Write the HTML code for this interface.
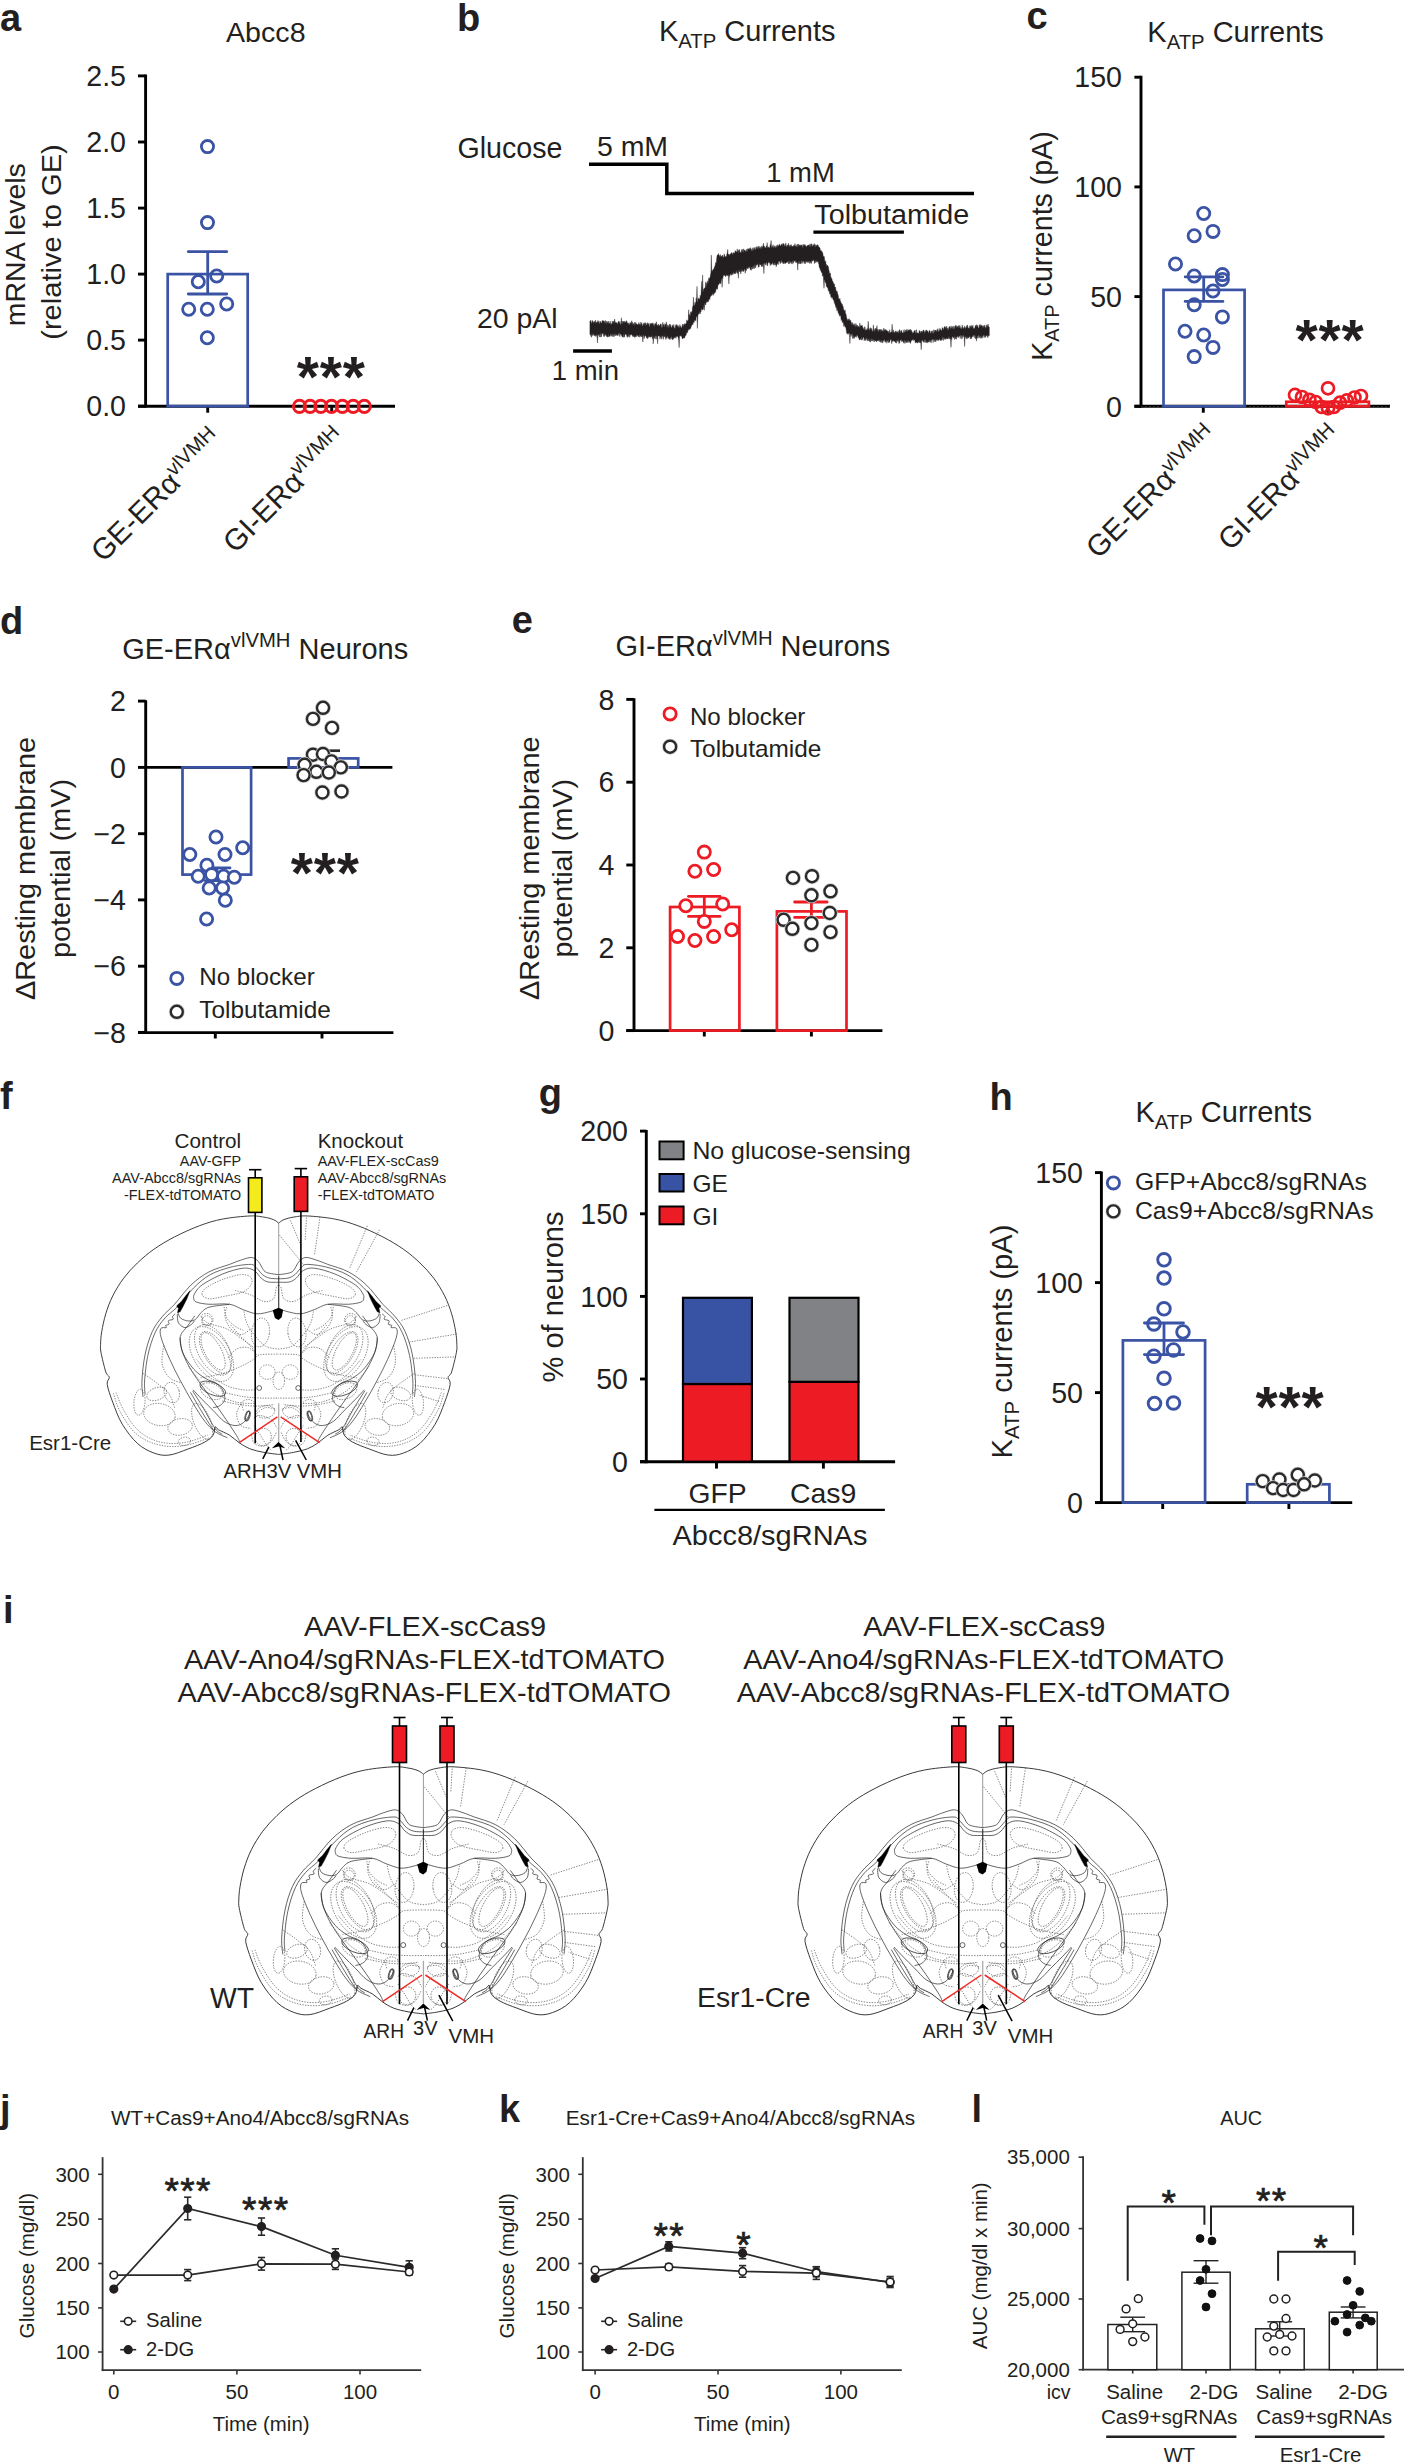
<!DOCTYPE html>
<html><head><meta charset="utf-8"><title>Figure</title>
<style>html,body{margin:0;padding:0;background:#fff}svg{display:block}text{font-family:"Liberation Sans",Arial,Helvetica,sans-serif;fill:#231f20}</style></head>
<body><svg width="1404" height="2463" viewBox="0 0 1404 2463">
<rect width="1404" height="2463" fill="#fff"/>
<defs><g id="brain"><g id="bh"><g fill="none" stroke="#222" stroke-width="0.7"><path d="M423.4,1774.2C422.5,1773.6 420.6,1771.6 418.0,1770.6C415.4,1769.6 412.0,1768.6 408.0,1768.0C404.0,1767.4 400.9,1766.5 393.8,1766.8C386.7,1767.1 374.1,1768.3 365.3,1770.0C356.5,1771.7 349.4,1773.9 341.1,1777.0C332.8,1780.1 323.3,1784.5 315.5,1788.5C307.7,1792.5 300.5,1796.8 294.1,1801.3C287.7,1805.8 282.2,1810.5 277.0,1815.5C271.8,1820.5 267.1,1825.5 262.8,1831.2C258.5,1836.9 254.5,1843.5 251.4,1849.7C248.3,1855.9 246.1,1862.0 244.2,1868.2C242.3,1874.4 240.9,1881.5 240.0,1886.8C239.1,1892.1 238.9,1896.4 238.8,1900.0C238.7,1903.6 238.4,1903.8 239.3,1908.5C240.2,1913.2 242.8,1924.1 244.2,1928.4C245.6,1932.7 247.6,1931.9 247.8,1934.1C248.1,1936.2 245.1,1937.0 245.7,1941.3C246.3,1945.6 248.8,1952.9 251.4,1959.8C254.0,1966.7 257.0,1975.5 261.3,1982.6C265.6,1989.7 271.5,1997.5 277.0,2002.5C282.5,2007.5 288.6,2010.5 294.1,2012.5C299.6,2014.5 303.9,2015.3 309.8,2014.6C315.7,2013.9 323.5,2010.5 329.7,2008.2C335.9,2006.0 342.5,2003.5 346.8,2001.1C351.1,1998.7 353.6,1996.6 355.4,1994.0C357.2,1991.4 356.6,1986.4 357.5,1985.4C358.4,1984.5 358.5,1986.9 361.0,1988.3C363.5,1989.7 368.9,1991.8 372.5,1994.0C376.1,1996.2 378.8,1999.4 382.4,2001.8C385.9,2004.2 389.5,2006.5 393.8,2008.2C398.1,2009.9 403.2,2010.8 408.1,2011.8C413.0,2012.8 420.8,2013.6 423.4,2013.9" stroke-width="0.9" stroke="#222"/><path d="M423.4,1827.6C421.8,1827.4 416.3,1826.9 413.8,1826.2C411.2,1825.5 410.0,1825.4 408.1,1823.4C406.2,1821.3 404.5,1816.4 402.4,1814.1C400.2,1811.8 398.3,1810.1 395.2,1809.8C392.2,1809.6 387.6,1811.5 383.8,1812.7C380.0,1813.9 377.9,1814.9 372.5,1817.0C367.0,1819.0 357.7,1821.2 351.1,1824.8C344.4,1828.3 338.5,1832.7 332.6,1838.3C326.6,1843.9 320.4,1852.8 315.5,1858.3C310.5,1863.7 306.6,1866.4 302.8,1871.1C298.9,1875.8 295.5,1879.9 292.5,1886.4C289.5,1892.9 286.8,1901.4 285.0,1910.0C283.2,1918.6 282.0,1930.4 281.7,1937.8C281.3,1945.2 282.6,1951.7 282.8,1954.4"/><path d="M423.4,1831.9C421.8,1831.8 416.6,1831.9 413.8,1831.2C411.0,1830.5 409.0,1829.5 406.6,1827.6C404.3,1825.7 401.7,1821.6 399.5,1819.8C397.4,1818.0 398.1,1817.0 393.8,1817.0C389.5,1817.0 380.8,1818.0 373.9,1819.8C367.0,1821.6 358.9,1824.1 352.5,1827.6C346.1,1831.2 341.1,1835.6 335.4,1841.2C329.7,1846.7 323.3,1855.9 318.3,1861.1C313.3,1866.3 309.4,1868.1 305.6,1872.5C301.7,1876.9 298.2,1881.3 295.3,1887.8C292.3,1894.3 289.6,1903.1 287.8,1911.4C286.0,1919.7 284.9,1931.1 284.4,1937.8C284.0,1944.5 284.9,1949.4 285.0,1951.7"/><path d="M423.4,1835.5C421.6,1835.4 415.4,1835.9 412.3,1835.2C409.3,1834.5 407.6,1833.2 405.2,1831.2C402.8,1829.2 401.2,1825.1 398.1,1823.4C395.0,1821.7 392.2,1820.3 386.7,1820.9C381.2,1821.5 372.5,1824.0 365.3,1826.9C358.2,1829.8 348.8,1834.9 344.0,1838.3C339.1,1841.8 337.5,1845.2 336.1,1847.6C334.7,1850.0 335.1,1851.1 335.4,1852.6C335.8,1854.0 335.7,1855.2 338.3,1856.1C340.9,1857.1 345.4,1857.9 351.1,1858.3C356.8,1858.6 366.5,1857.3 372.5,1858.3C378.4,1859.2 381.9,1862.3 386.7,1864.0C391.4,1865.6 396.2,1867.9 400.9,1868.2C405.7,1868.5 411.4,1866.6 415.2,1865.7C418.9,1864.7 422.1,1863.1 423.4,1862.5"/><path d="M372.5,1858.3C368.9,1858.8 356.1,1859.9 351.1,1861.4C346.1,1862.9 344.9,1865.4 342.5,1867.5C340.2,1869.7 339.0,1872.9 336.8,1874.2C334.7,1875.6 332.2,1875.9 329.7,1875.6C327.2,1875.4 323.7,1874.2 321.9,1872.8C320.1,1871.4 319.5,1868.0 319.0,1867.1"/><path d="M318.3,1868.5C318.5,1870.0 318.2,1875.2 319.5,1877.5C320.8,1879.8 323.9,1882.2 326.2,1882.5C328.5,1882.7 331.6,1880.1 333.3,1878.9C334.9,1877.7 335.7,1875.9 336.1,1875.4"/><path d="M316.2,1868.2C315.7,1868.7 313.7,1870.1 313.3,1871.1C313.0,1872.0 314.8,1873.2 314.0,1873.9C313.3,1874.6 309.8,1874.5 309.1,1875.4C308.3,1876.2 310.2,1878.1 309.8,1878.9C309.3,1879.7 306.7,1879.7 306.2,1880.3C305.7,1880.9 307.8,1882.0 306.9,1882.5C306.1,1883.0 302.1,1881.7 301.2,1883.5C300.3,1885.3 300.1,1888.0 301.7,1893.3C303.2,1898.7 307.2,1908.1 310.6,1915.6C313.9,1923.0 317.7,1930.4 321.7,1937.8C325.6,1945.2 330.0,1953.1 334.2,1960.0C338.3,1966.9 342.7,1974.4 346.7,1979.4C350.6,1984.5 353.8,1987.7 357.8,1990.6C361.7,1993.4 368.2,1995.6 370.3,1996.7"/><polygon points="331.4,1844.3 328.3,1852.6 324.0,1861.1 321.2,1866.1 318.6,1867.1 319.5,1862.5 317.6,1860.0 322.6,1855.4 326.9,1849.7" fill="#000" stroke="#000" stroke-width="0.5"/><path d="M336.5,1870.3C335.2,1872.0 331.3,1877.5 329.0,1880.8C326.6,1884.0 323.5,1886.7 322.2,1889.7C321.0,1892.7 320.9,1894.7 321.5,1898.7C322.1,1902.7 323.7,1908.4 326.0,1913.7C328.2,1918.9 331.0,1923.9 335.0,1930.1C338.9,1936.4 344.9,1944.1 349.9,1951.1C354.9,1958.0 359.9,1964.8 364.9,1972.0C369.9,1979.2 376.8,1989.6 379.8,1994.4C382.8,1999.3 382.3,2000.0 382.8,2001.2"/><path d="M334.2,1948.1C336.1,1951.1 341.6,1959.5 345.4,1966.0C349.3,1972.5 354.2,1982.5 357.4,1987.0C360.6,1991.4 363.6,1991.9 364.9,1992.9"/><path d="M332.0,1949.6C333.7,1952.6 338.6,1961.2 342.4,1967.5C346.3,1973.9 352.7,1984.5 355.1,1987.7C357.6,1990.9 357.0,1987.1 357.4,1987.0"/><g><ellipse cx="355.1" cy="1945.8" rx="14.2" ry="6.3" transform="rotate(22 355.1 1945.8)"/><ellipse cx="391.5" cy="1974.2" rx="2.1" ry="5.4" transform="rotate(15 391.5 1974.2)"/><ellipse cx="403.2" cy="1945.1" rx="2.5" ry="2.5"/></g><path d="M423.5,1829.2C423.5,1834.6 423.5,1856.6 423.5,1862.1"/><path d="M321.2,1892.8C321.6,1895.4 321.6,1903.0 324.0,1908.5C326.4,1914.0 331.4,1921.1 335.4,1925.6C339.4,1930.1 344.4,1933.2 348.2,1935.6C352.0,1937.9 355.4,1937.9 358.2,1939.8C361.1,1941.7 363.8,1944.1 365.3,1947.0C366.9,1949.8 367.9,1954.2 367.5,1956.9C367.0,1959.7 364.5,1961.9 362.5,1963.3C360.5,1964.8 356.5,1965.1 355.4,1965.5"/><path d="M334.7,1947.0C336.2,1948.6 340.5,1953.4 344.0,1956.9C347.4,1960.5 351.6,1964.5 355.4,1968.3C359.2,1972.1 363.0,1977.1 366.8,1979.7C370.6,1982.3 374.8,1983.8 378.1,1984.0C381.5,1984.2 384.2,1983.0 386.7,1981.1C389.2,1979.2 392.2,1974.5 393.1,1972.6C394.1,1970.7 392.5,1970.2 392.4,1969.7"/><ellipse cx="390.7" cy="1974.0" rx="2.0" ry="5.4" transform="rotate(15 390.7 1974.0)"/></g><g fill="none" stroke="#444" stroke-width="0.65" stroke-dasharray="1.4 1.3"><path d="M344.0,1848.3C343.5,1846.4 344.7,1843.8 348.2,1841.2C351.8,1838.6 359.4,1834.9 365.3,1832.6C371.3,1830.4 379.1,1828.1 383.8,1827.6C388.6,1827.2 391.9,1828.2 393.8,1829.8C395.7,1831.3 396.4,1834.3 395.2,1836.9C394.1,1839.5 391.7,1843.2 386.7,1845.4C381.7,1847.7 371.3,1849.2 365.3,1850.4C359.4,1851.6 354.6,1852.9 351.1,1852.6C347.5,1852.2 344.4,1850.2 344.0,1848.3Z"/><path d="M378.1,1844.0C380.8,1844.7 388.8,1846.4 393.8,1848.3C398.8,1850.2 404.0,1854.7 408.1,1855.4C412.1,1856.1 415.9,1854.9 418.0,1852.6C420.2,1850.2 420.0,1843.5 420.9,1841.2C421.8,1838.8 423.0,1838.8 423.4,1838.3"/><path d="M366.8,1861.1C367.2,1863.0 367.7,1869.2 369.6,1872.5C371.5,1875.8 375.3,1878.9 378.1,1881.1C381.0,1883.2 385.3,1884.6 386.7,1885.3"/><path d="M344.0,1869.7C344.9,1868.0 349.2,1867.5 351.1,1868.2C353.0,1868.9 355.1,1872.0 355.4,1873.9C355.6,1875.8 354.2,1878.9 352.5,1879.6C350.8,1880.3 346.8,1879.9 345.4,1878.2C344.0,1876.5 343.0,1871.3 344.0,1869.7Z"/><ellipse cx="357.4" cy="1908.4" rx="11.2" ry="24.7" transform="rotate(-32 357.4 1908.4)"/><ellipse cx="353.7" cy="1909.9" rx="18.7" ry="31.4" transform="rotate(-32 353.7 1909.9)"/><ellipse cx="404.5" cy="1887.5" rx="9.3" ry="15.0" transform="rotate(8 404.5 1887.5)"/><ellipse cx="411.5" cy="1928.6" rx="8.2" ry="7.5"/><ellipse cx="409.7" cy="1969.8" rx="9.7" ry="6.3" transform="rotate(-10 409.7 1969.8)"/><ellipse cx="407.5" cy="1995.9" rx="8.2" ry="9.0" transform="rotate(20 407.5 1995.9)"/><path d="M342.4,1870.3C343.7,1871.5 345.4,1875.5 349.9,1877.8C354.4,1880.0 363.1,1880.8 369.4,1883.8C375.6,1886.7 382.6,1892.5 387.3,1895.7C392.0,1899.0 396.0,1902.0 397.8,1903.2"/><path d="M369.4,1861.3C369.1,1863.1 367.1,1868.1 367.9,1871.8C368.6,1875.5 371.1,1880.8 373.8,1883.8C376.6,1886.7 380.8,1889.7 384.3,1889.7C387.8,1889.7 393.0,1884.8 394.8,1883.8"/><path d="M387.3,1865.8C387.8,1867.8 388.6,1873.8 390.3,1877.8C392.0,1881.8 394.5,1885.8 397.8,1889.7C401.0,1893.7 405.5,1899.2 409.7,1901.7C414.0,1904.2 421.2,1904.2 423.5,1904.7"/><path d="M342.4,1934.6C346.2,1933.9 357.9,1932.1 364.9,1930.1C371.8,1928.1 378.8,1925.1 384.3,1922.6C389.8,1920.2 394.5,1917.2 397.8,1915.2C401.0,1913.2 399.5,1911.6 403.8,1910.7C408.0,1909.8 420.2,1910.1 423.5,1909.9"/><path d="M369.4,1950.3C372.3,1950.9 381.3,1953.2 387.3,1954.1C393.3,1954.9 399.2,1955.3 405.3,1955.5C411.3,1955.8 420.5,1955.5 423.5,1955.5"/><path d="M364.9,1958.5C367.9,1959.2 376.8,1961.4 382.8,1962.3C388.8,1963.2 394.8,1963.8 400.8,1963.8C406.7,1963.8 415.7,1962.5 418.7,1962.3"/><path d="M370.9,1913.7C372.3,1912.2 376.3,1906.4 379.8,1904.7C383.3,1903.0 388.3,1902.2 391.8,1903.2C395.3,1904.2 399.3,1909.4 400.8,1910.7"/><path d="M345.4,1871.8C344.4,1873.0 343.2,1876.3 343.9,1877.8C344.7,1879.3 348.2,1881.3 349.9,1880.8C351.7,1880.3 354.4,1876.5 354.4,1874.8C354.4,1873.0 351.4,1870.8 349.9,1870.3C348.4,1869.8 346.4,1870.5 345.4,1871.8Z"/><path d="M397.8,1976.5C398.8,1976.0 400.8,1973.2 403.8,1973.5C406.7,1973.7 412.7,1975.7 415.7,1978.0C418.7,1980.2 420.7,1985.5 421.7,1987.0"/><path d="M397.8,1984.0C398.8,1985.5 401.5,1989.5 403.8,1992.9C406.0,1996.4 409.2,2002.2 411.2,2004.9C413.2,2007.6 415.0,2008.6 415.7,2009.4"/><path d="M384.3,1961.5C383.6,1963.3 379.8,1968.3 379.8,1972.0C379.8,1975.7 381.8,1981.5 384.3,1984.0C386.8,1986.5 393.0,1986.5 394.8,1987.0"/><ellipse cx="279.1" cy="1959.8" rx="5.7" ry="13.5" transform="rotate(5 279.1 1959.8)"/><ellipse cx="297.0" cy="1951.2" rx="10.7" ry="6.4" transform="rotate(-20 297.0 1951.2)"/><ellipse cx="312.6" cy="1949.8" rx="7.8" ry="10.7" transform="rotate(-15 312.6 1949.8)"/><ellipse cx="299.8" cy="1972.6" rx="16.4" ry="11.4" transform="rotate(10 299.8 1972.6)"/><ellipse cx="321.2" cy="1985.4" rx="12.8" ry="8.5" transform="rotate(-10 321.2 1985.4)"/><ellipse cx="325.7" cy="2000.4" rx="6.4" ry="4.3" transform="rotate(-10 325.7 2000.4)"/><ellipse cx="344.0" cy="1979.7" rx="8.5" ry="19.9" transform="rotate(-22 344.0 1979.7)"/><ellipse cx="353.9" cy="1948.4" rx="12.1" ry="7.8" transform="rotate(25 353.9 1948.4)"/><ellipse cx="355.4" cy="1905.6" rx="15.7" ry="28.5" transform="rotate(-28 355.4 1905.6)"/><ellipse cx="355.4" cy="1907.1" rx="8.5" ry="21.4" transform="rotate(-28 355.4 1907.1)"/><path d="M252.1,1950.5C253.1,1953.5 255.0,1961.8 258.5,1968.3C261.9,1974.8 267.5,1984.2 272.7,1989.7C278.0,1995.1 283.7,1998.4 289.8,2001.1C296.0,2003.7 303.1,2005.2 309.8,2005.6C316.4,2006.1 322.8,2005.4 329.7,2003.9C336.6,2002.5 347.5,1998.0 351.1,1996.8"/><path d="M254.9,1949.8C256.1,1952.6 258.6,1960.7 262.1,1966.9C265.5,1973.1 270.7,1981.7 275.6,1986.8C280.5,1992.0 285.6,1995.3 291.3,1997.9C297.0,2000.6 303.4,2002.0 309.8,2002.5C316.2,2003.0 323.1,2002.2 329.7,2000.8C336.4,1999.4 346.3,1995.1 349.7,1994.0"/><path d="M282.7,1929.9C285.1,1931.5 292.4,1936.3 297.0,1939.8C301.5,1943.4 306.7,1947.0 309.8,1951.2C312.9,1955.5 314.5,1963.1 315.5,1965.5"/><path d="M304.1,1901.4C303.8,1904.5 301.7,1914.4 302.6,1919.9C303.6,1925.3 306.4,1930.8 309.8,1934.1C313.1,1937.5 320.5,1938.9 322.6,1939.8"/><path d="M373.9,1880.0C375.5,1881.9 380.5,1887.8 383.8,1891.4C387.2,1895.0 391.2,1898.5 393.8,1901.4C396.4,1904.2 398.6,1907.3 399.5,1908.5"/><path d="M329.7,1922.7C332.1,1925.6 339.2,1935.1 344.0,1939.8C348.7,1944.6 352.3,1947.9 358.2,1951.2C364.1,1954.5 372.7,1958.1 379.6,1959.8C386.5,1961.4 396.2,1961.0 399.5,1961.2"/><path d="M338.3,1915.6C340.6,1918.2 347.3,1926.8 352.5,1931.3C357.7,1935.8 363.9,1940.1 369.6,1942.7C375.3,1945.3 381.7,1946.2 386.7,1947.0C391.7,1947.7 397.4,1947.0 399.5,1947.0"/><path d="M386.7,1968.3C386.5,1966.9 384.3,1961.7 385.3,1959.8C386.2,1957.9 390.3,1956.9 392.4,1956.9C394.5,1956.9 397.1,1959.3 398.1,1959.8"/><path d="M400.9,1971.2C402.4,1970.2 406.2,1966.2 409.5,1965.5C412.8,1964.8 419.0,1966.7 420.9,1966.9"/><path d="M395.2,1994.0C395.7,1995.4 396.2,2000.6 398.1,2002.5C400.0,2004.4 403.8,2005.6 406.6,2005.4C409.5,2005.1 412.8,2003.5 415.2,2001.1C417.6,1998.7 419.9,1992.8 420.9,1991.1"/></g></g><use href="#bh" transform="translate(846.8,0) scale(-1,1)"/><polygon points="417.2,1864.6 423.5,1861.8 428.0,1864.3 426.5,1871.8 423.2,1874.5 419.5,1872.5" fill="#000"/><g fill="none" stroke="#444" stroke-width="0.65" stroke-dasharray="1.4 1.3"><path d="M424.2,1786.7 L449.4,1817.6"/><path d="M435.4,1771.3 L446.6,1797.9"/><path d="M466.2,1767.7 L460.6,1806.4"/><path d="M515.3,1776.9 L497.1,1820.4"/><path d="M527.9,1781.1 L504.1,1824.6"/><path d="M598.1,1859.6 L550.4,1875.1"/><path d="M607.9,1889.1 L558.8,1897.5"/><path d="M605.1,1912.9 L563.0,1914.3"/><path d="M598.1,1935.4 L563.0,1931.2"/><path d="M595.2,1946.6 L564.4,1942.4"/><path d="M589.6,1959.2 L568.6,1952.2"/><path d="M452.2,1768.5 L450.8,1792.3"/><ellipse cx="423.5" cy="1937.6" rx="6.0" ry="9.0"/></g><path d="M423.4,1960.8 V2003.4" stroke="#aaa" stroke-width="1.3"/><path d="M423.4,1774.2 V1829.2" stroke="#555" stroke-width="0.6"/></g></defs>
<text x="0.0" y="30.7" font-size="38" font-weight="bold" >a</text>
<text x="226.0" y="41.9" font-size="28" textLength="79.6" lengthAdjust="spacingAndGlyphs" >Abcc8</text>
<line x1="145.6" y1="74.4" x2="145.6" y2="407.6" stroke="#000" stroke-width="2.9" />
<line x1="138.0" y1="406.2" x2="395.0" y2="406.2" stroke="#000" stroke-width="2.9" />
<line x1="138.0" y1="406.2" x2="145.6" y2="406.2" stroke="#000" stroke-width="2.9" />
<text x="126.0" y="416.4" font-size="28.6" text-anchor="end" >0.0</text>
<line x1="138.0" y1="340.1" x2="145.6" y2="340.1" stroke="#000" stroke-width="2.9" />
<text x="126.0" y="350.3" font-size="28.6" text-anchor="end" >0.5</text>
<line x1="138.0" y1="274.1" x2="145.6" y2="274.1" stroke="#000" stroke-width="2.9" />
<text x="126.0" y="284.3" font-size="28.6" text-anchor="end" >1.0</text>
<line x1="138.0" y1="208.1" x2="145.6" y2="208.1" stroke="#000" stroke-width="2.9" />
<text x="126.0" y="218.2" font-size="28.6" text-anchor="end" >1.5</text>
<line x1="138.0" y1="142.0" x2="145.6" y2="142.0" stroke="#000" stroke-width="2.9" />
<text x="126.0" y="152.2" font-size="28.6" text-anchor="end" >2.0</text>
<line x1="138.0" y1="75.9" x2="145.6" y2="75.9" stroke="#000" stroke-width="2.9" />
<text x="126.0" y="86.1" font-size="28.6" text-anchor="end" >2.5</text>
<line x1="207.7" y1="406.2" x2="207.7" y2="412.7" stroke="#000" stroke-width="2.9" />
<line x1="331.7" y1="406.2" x2="331.7" y2="412.7" stroke="#000" stroke-width="2.9" />
<text x="25.0" y="244.7" font-size="28" text-anchor="middle" transform="rotate(-90 25.0 244.7)" textLength="163.0" lengthAdjust="spacingAndGlyphs" >mRNA levels</text>
<text x="60.7" y="242.0" font-size="28" text-anchor="middle" transform="rotate(-90 60.7 242.0)" textLength="195.5" lengthAdjust="spacingAndGlyphs" >(relative to GE)</text>
<rect x="167.7" y="274.1" width="80.0" height="132.1" stroke="#3a53a4" stroke-width="2.7" fill="none"/>
<line x1="207.7" y1="251.7" x2="207.7" y2="294.0" stroke="#3a53a4" stroke-width="2.8" />
<line x1="188.3" y1="251.7" x2="226.7" y2="251.7" stroke="#3a53a4" stroke-width="2.8" stroke-linecap="round"/>
<line x1="188.3" y1="294.0" x2="226.7" y2="294.0" stroke="#3a53a4" stroke-width="2.8" stroke-linecap="round"/>
<circle cx="207.5" cy="146.6" r="6.1" stroke="#3a53a4" stroke-width="2.8" fill="none"/>
<circle cx="207.5" cy="222.6" r="6.1" stroke="#3a53a4" stroke-width="2.8" fill="none"/>
<circle cx="216.7" cy="276.0" r="6.1" stroke="#3a53a4" stroke-width="2.8" fill="none"/>
<circle cx="198.3" cy="281.7" r="6.1" stroke="#3a53a4" stroke-width="2.8" fill="none"/>
<circle cx="226.7" cy="304.0" r="6.1" stroke="#3a53a4" stroke-width="2.8" fill="none"/>
<circle cx="188.7" cy="309.3" r="6.1" stroke="#3a53a4" stroke-width="2.8" fill="none"/>
<circle cx="207.3" cy="309.3" r="6.1" stroke="#3a53a4" stroke-width="2.8" fill="none"/>
<circle cx="207.3" cy="337.7" r="6.1" stroke="#3a53a4" stroke-width="2.8" fill="none"/>
<circle cx="299.5" cy="406.4" r="6.1" stroke="#ed1c24" stroke-width="2.9" fill="none"/>
<circle cx="310.1" cy="406.4" r="6.1" stroke="#ed1c24" stroke-width="2.9" fill="none"/>
<circle cx="320.8" cy="406.4" r="6.1" stroke="#ed1c24" stroke-width="2.9" fill="none"/>
<circle cx="331.5" cy="406.4" r="6.1" stroke="#ed1c24" stroke-width="2.9" fill="none"/>
<circle cx="342.4" cy="406.4" r="6.1" stroke="#ed1c24" stroke-width="2.9" fill="none"/>
<circle cx="353.2" cy="406.4" r="6.1" stroke="#ed1c24" stroke-width="2.9" fill="none"/>
<circle cx="364.3" cy="406.4" r="6.1" stroke="#ed1c24" stroke-width="2.9" fill="none"/>
<text x="331.2" y="396.8" font-size="57" text-anchor="middle" font-weight="bold" fill="#000" letter-spacing="0.8">***</text>
<text x="224.5" y="442.0" font-size="29.7" text-anchor="end" transform="rotate(-45 224.5 442.0)">GE-ERα<tspan font-size="20.5" dy="-11">vlVMH</tspan></text>
<text x="348.3" y="441.0" font-size="29.7" text-anchor="end" transform="rotate(-45 348.3 441.0)">GI-ERα<tspan font-size="20.5" dy="-11">vlVMH</tspan></text>
<text x="457.0" y="30.5" font-size="38" font-weight="bold" >b</text>
<text x="659" y="40.6" font-size="29">K<tspan font-size="20.3" dy="7">ATP</tspan><tspan dy="-7"> Currents</tspan></text>
<text x="457.5" y="158.3" font-size="28.6" textLength="105.0" lengthAdjust="spacingAndGlyphs" >Glucose</text>
<text x="596.9" y="155.6" font-size="28" textLength="71.2" lengthAdjust="spacingAndGlyphs" >5 mM</text>
<text x="766.2" y="181.7" font-size="28" textLength="68.6" lengthAdjust="spacingAndGlyphs" >1 mM</text>
<text x="814.3" y="223.9" font-size="28.4" textLength="154.9" lengthAdjust="spacingAndGlyphs" >Tolbutamide</text>
<path d="M589,164.2 H666.8 V193.4 H974" stroke="#000" stroke-width="3.5" fill="none" />
<line x1="813.4" y1="232.1" x2="903.9" y2="232.1" stroke="#000" stroke-width="3.3" />
<text x="476.9" y="327.7" font-size="28.4" textLength="80.7" lengthAdjust="spacingAndGlyphs" >20 pAl</text>
<line x1="573.1" y1="350.9" x2="611.9" y2="350.9" stroke="#000" stroke-width="3.5" />
<text x="551.7" y="379.6" font-size="28.4" textLength="67.3" lengthAdjust="spacingAndGlyphs" >1 min</text>
<path d="M589.9,321.2 590.3,322.2 590.7,320.0 591.1,321.7 591.5,322.6 591.9,324.1 592.3,320.5 592.7,320.7 593.1,322.3 593.5,322.8 593.9,321.9 594.3,321.0 594.7,323.1 595.1,321.8 595.5,320.1 595.9,323.7 596.3,322.5 596.7,322.0 597.1,322.8 597.5,321.7 597.9,320.5 598.3,321.1 598.7,322.0 599.1,323.8 599.5,323.9 599.9,321.1 600.3,321.2 600.7,322.5 601.1,322.8 601.5,323.5 601.9,321.8 602.3,320.4 602.6,320.4 603.0,321.7 603.4,320.8 603.8,320.7 604.2,322.3 604.6,321.3 605.0,324.3 605.4,320.3 605.8,323.2 606.2,323.5 606.6,321.2 607.0,323.7 607.4,322.5 607.8,321.4 608.2,324.3 608.6,321.2 609.0,323.0 609.4,323.1 609.8,324.2 610.2,321.1 610.6,324.5 611.0,323.5 611.4,324.2 611.8,324.6 612.2,320.9 612.6,322.6 613.0,323.9 613.4,321.4 613.8,321.0 614.2,322.9 614.6,319.0 615.0,321.2 615.4,322.5 615.8,322.7 616.2,322.9 616.6,322.7 617.0,322.4 617.4,323.5 617.8,324.6 618.2,321.7 618.6,321.2 619.0,321.7 619.4,324.5 619.8,321.3 620.2,324.8 620.6,324.3 621.0,322.2 621.4,317.8 621.8,323.5 622.2,324.2 622.6,321.0 623.0,322.7 623.4,321.5 623.8,321.3 624.2,321.3 624.5,321.3 624.9,322.9 625.3,322.2 625.7,321.5 626.1,322.4 626.5,320.6 626.9,321.2 627.3,323.2 627.7,323.0 628.1,323.4 628.5,324.8 628.9,322.7 629.3,324.4 629.7,324.9 630.1,322.3 630.5,323.2 630.9,323.7 631.3,322.9 631.7,320.8 632.1,321.8 632.5,322.8 632.9,324.7 633.3,323.2 633.7,324.6 634.1,325.4 634.5,322.2 634.9,325.0 635.3,324.5 635.7,322.2 636.1,324.1 636.5,323.8 636.9,323.9 637.3,324.9 637.7,324.9 638.1,323.9 638.5,325.1 638.9,322.5 639.3,324.3 639.7,324.8 640.1,324.1 640.5,325.8 640.9,322.0 641.3,323.9 641.7,322.9 642.1,326.1 642.5,325.9 642.9,324.2 643.3,323.4 643.7,325.7 644.1,322.7 644.5,323.4 644.9,324.7 645.3,322.4 645.7,326.3 646.0,323.1 646.4,325.8 646.8,324.7 647.2,324.3 647.6,322.6 648.0,323.9 648.4,323.5 648.8,324.1 649.2,326.4 649.6,326.8 650.0,322.9 650.4,323.7 650.8,324.4 651.2,324.1 651.6,323.2 652.0,323.6 652.4,324.6 652.8,322.8 653.2,324.8 653.6,326.3 654.0,323.3 654.4,326.9 654.8,324.8 655.2,323.9 655.6,323.5 656.0,323.4 656.4,321.7 656.8,325.0 657.2,325.1 657.6,326.1 658.0,324.9 658.4,324.1 658.8,326.1 659.2,325.3 659.6,326.7 660.0,324.5 660.4,324.2 660.8,323.9 661.2,323.9 661.6,327.2 662.0,327.4 662.4,326.6 662.8,322.2 663.2,325.0 663.6,324.4 664.0,325.4 664.4,327.5 664.8,323.7 665.2,323.8 665.6,324.7 666.0,324.8 666.4,321.8 666.8,327.6 667.2,324.7 667.5,325.4 667.9,327.8 668.3,327.3 668.7,325.2 669.1,324.7 669.5,324.1 669.9,327.7 670.3,324.4 670.7,325.0 671.1,327.2 671.5,327.6 671.9,327.2 672.3,324.8 672.7,325.8 673.1,327.6 673.5,326.2 673.9,324.4 674.3,328.4 674.7,328.0 675.1,328.4 675.5,325.3 675.9,325.4 676.3,324.4 676.7,325.7 677.1,324.7 677.5,327.1 677.9,326.1 678.3,325.6 678.7,327.8 679.1,327.2 679.5,327.5 679.9,324.6 680.3,327.7 680.7,325.9 681.1,327.6 681.5,327.7 681.9,327.7 682.3,325.1 682.7,324.0 683.1,326.9 683.5,324.9 683.9,324.2 684.3,325.4 684.7,323.5 685.1,323.8 685.5,324.5 685.9,323.5 686.3,323.4 686.7,319.8 687.1,320.7 687.5,321.0 687.9,321.0 688.3,319.6 688.7,309.8 689.1,317.8 689.4,314.3 689.8,315.1 690.2,316.1 690.6,311.8 691.0,312.9 691.4,312.4 691.8,311.4 692.2,311.3 692.6,306.5 693.0,307.3 693.4,297.1 693.8,305.7 694.2,305.5 694.6,304.9 695.0,302.1 695.4,304.0 695.8,302.9 696.2,298.1 696.6,301.0 697.0,286.4 697.4,302.4 697.8,301.5 698.2,297.8 698.6,300.0 699.0,298.5 699.4,299.3 699.8,298.9 700.2,295.2 700.6,297.6 701.0,294.6 701.4,288.7 701.8,281.2 702.2,293.4 702.6,275.0 703.0,288.1 703.4,292.2 703.8,289.1 704.2,288.5 704.6,288.1 705.0,288.3 705.4,286.3 705.8,281.8 706.2,287.2 706.6,282.9 707.0,285.3 707.4,280.8 707.8,282.9 708.2,282.4 708.6,278.8 709.0,277.8 709.4,278.7 709.8,277.9 710.2,276.7 710.6,274.1 710.9,273.1 711.3,255.1 711.7,271.1 712.1,271.6 712.5,270.5 712.9,270.1 713.3,268.8 713.7,269.4 714.1,268.6 714.5,266.4 714.9,266.9 715.3,264.6 715.7,262.6 716.1,263.5 716.5,260.5 716.9,256.8 717.3,254.9 717.7,254.9 718.1,254.8 718.5,253.4 718.9,254.9 719.3,257.5 719.7,255.2 720.1,257.0 720.5,254.6 720.9,257.2 721.3,256.1 721.7,257.4 722.1,255.7 722.5,255.0 722.9,256.7 723.3,257.6 723.7,257.2 724.1,253.8 724.5,254.7 724.9,256.8 725.3,256.7 725.7,256.6 726.1,256.7 726.5,256.2 726.9,254.0 727.3,253.0 727.7,249.4 728.1,254.5 728.5,254.0 728.9,255.0 729.3,256.2 729.7,254.1 730.1,254.6 730.5,253.8 730.9,253.5 731.3,252.8 731.7,252.6 732.1,254.7 732.5,253.7 732.8,254.2 733.2,252.3 733.6,253.5 734.0,253.3 734.4,253.2 734.8,252.5 735.2,250.5 735.6,251.8 736.0,251.2 736.4,251.9 736.8,252.3 737.2,248.9 737.6,252.2 738.0,251.3 738.4,250.1 738.8,253.5 739.2,249.3 739.6,250.0 740.0,252.8 740.4,252.1 740.8,253.1 741.2,252.4 741.6,249.6 742.0,250.4 742.4,249.3 742.8,251.4 743.2,252.6 743.6,248.8 744.0,249.9 744.4,251.0 744.8,249.9 745.2,251.7 745.6,250.7 746.0,251.7 746.4,249.2 746.8,251.9 747.2,251.3 747.6,248.8 748.0,248.7 748.4,249.7 748.8,248.6 749.2,249.8 749.6,248.3 750.0,249.8 750.4,247.6 750.8,250.0 751.2,248.7 751.6,250.9 752.0,250.4 752.4,250.5 752.8,247.8 753.2,249.3 753.6,250.7 754.0,247.3 754.3,249.4 754.7,248.5 755.1,247.5 755.5,250.3 755.9,249.8 756.3,246.6 756.7,249.2 757.1,246.7 757.5,248.2 757.9,249.0 758.3,246.1 758.7,249.6 759.1,246.3 759.5,247.7 759.9,248.4 760.3,248.7 760.7,246.8 761.1,249.2 761.5,246.9 761.9,245.7 762.3,247.5 762.7,246.9 763.1,245.7 763.5,243.2 763.9,246.7 764.3,246.0 764.7,247.6 765.1,248.1 765.5,247.6 765.9,247.6 766.3,245.8 766.7,248.0 767.1,242.7 767.5,246.8 767.9,248.3 768.3,247.2 768.7,246.8 769.1,248.3 769.5,247.8 769.9,246.6 770.3,244.5 770.7,244.8 771.1,240.5 771.5,246.8 771.9,248.0 772.3,246.3 772.7,245.9 773.1,244.7 773.5,247.6 773.9,247.6 774.3,247.3 774.7,245.7 775.1,247.3 775.5,247.9 775.8,246.4 776.2,245.5 776.6,247.0 777.0,247.4 777.4,244.7 777.8,247.4 778.2,245.3 778.6,246.2 779.0,245.5 779.4,243.9 779.8,245.0 780.2,245.5 780.6,245.9 781.0,245.4 781.4,244.1 781.8,245.5 782.2,244.0 782.6,247.1 783.0,243.1 783.4,244.5 783.8,243.7 784.2,244.1 784.6,246.3 785.0,245.9 785.4,245.8 785.8,242.8 786.2,246.9 786.6,246.6 787.0,244.8 787.4,245.2 787.8,246.5 788.2,244.2 788.6,243.3 789.0,246.6 789.4,246.9 789.8,245.2 790.2,247.3 790.6,244.7 791.0,247.2 791.4,244.7 791.8,246.9 792.2,245.9 792.6,246.7 793.0,246.8 793.4,246.2 793.8,245.1 794.2,245.5 794.6,245.9 795.0,243.6 795.4,246.4 795.8,245.9 796.2,245.8 796.6,247.8 797.0,244.2 797.4,244.3 797.7,247.0 798.1,246.6 798.5,244.0 798.9,245.6 799.3,246.2 799.7,244.8 800.1,245.1 800.5,246.3 800.9,244.8 801.3,245.1 801.7,244.9 802.1,248.0 802.5,246.2 802.9,244.4 803.3,244.7 803.7,246.7 804.1,244.2 804.5,245.7 804.9,245.3 805.3,244.7 805.7,245.7 806.1,247.6 806.5,246.3 806.9,245.9 807.3,245.4 807.7,245.4 808.1,245.1 808.5,245.2 808.9,245.0 809.3,244.8 809.7,247.4 810.1,243.7 810.5,245.4 810.9,247.2 811.3,244.0 811.7,243.7 812.1,244.8 812.5,246.2 812.9,246.6 813.3,245.0 813.7,244.7 814.1,243.6 814.5,244.3 814.9,246.4 815.3,244.6 815.7,247.4 816.1,246.1 816.5,245.2 816.9,246.6 817.3,244.4 817.7,245.6 818.1,245.0 818.5,247.0 818.9,247.0 819.2,246.9 819.6,247.8 820.0,247.9 820.4,251.3 820.8,250.3 821.2,250.4 821.6,251.8 822.0,251.5 822.4,252.3 822.8,253.2 823.2,255.9 823.6,257.1 824.0,256.2 824.4,257.4 824.8,261.2 825.2,261.5 825.6,260.8 826.0,264.1 826.4,264.3 826.8,266.7 827.2,265.1 827.6,265.6 828.0,266.1 828.4,267.1 828.8,270.0 829.2,271.1 829.6,273.9 830.0,273.3 830.4,272.9 830.8,277.5 831.2,277.4 831.6,278.4 832.0,279.0 832.4,281.8 832.8,281.0 833.2,282.7 833.6,283.0 834.0,284.7 834.4,283.9 834.8,287.0 835.2,287.9 835.6,287.1 836.0,290.9 836.4,292.1 836.8,290.7 837.2,291.6 837.6,293.7 838.0,294.4 838.4,296.8 838.8,298.9 839.2,299.4 839.6,298.8 840.0,298.4 840.4,302.7 840.8,301.3 841.1,303.8 841.5,303.1 841.9,304.9 842.3,304.2 842.7,306.0 843.1,306.5 843.5,309.1 843.9,310.1 844.3,310.9 844.7,310.7 845.1,309.8 845.5,314.0 845.9,313.7 846.3,315.8 846.7,317.9 847.1,319.0 847.5,319.8 847.9,320.8 848.3,319.0 848.7,320.7 849.1,318.6 849.5,320.7 849.9,320.5 850.3,321.2 850.7,319.9 851.1,322.3 851.5,322.7 851.9,324.8 852.3,324.6 852.7,322.4 853.1,324.5 853.5,324.4 853.9,325.3 854.3,325.9 854.7,323.6 855.1,326.9 855.5,325.9 855.9,323.5 856.3,324.8 856.7,325.4 857.1,327.8 857.5,325.1 857.9,327.1 858.3,326.2 858.7,326.6 859.1,327.2 859.5,327.6 859.9,322.9 860.3,327.3 860.7,325.6 861.1,325.4 861.5,325.7 861.9,325.8 862.3,325.3 862.6,327.4 863.0,327.3 863.4,328.6 863.8,329.3 864.2,329.7 864.6,326.9 865.0,326.8 865.4,330.4 865.8,329.9 866.2,329.9 866.6,330.3 867.0,328.5 867.4,330.5 867.8,327.6 868.2,321.3 868.6,327.7 869.0,330.1 869.4,330.4 869.8,328.4 870.2,329.7 870.6,327.6 871.0,328.1 871.4,328.4 871.8,329.8 872.2,331.6 872.6,331.5 873.0,328.9 873.4,324.9 873.8,330.7 874.2,332.1 874.6,329.3 875.0,329.6 875.4,328.1 875.8,330.7 876.2,328.6 876.6,328.4 877.0,325.6 877.4,331.9 877.8,329.3 878.2,331.4 878.6,331.2 879.0,329.3 879.4,330.5 879.8,329.4 880.2,330.8 880.6,329.3 881.0,332.1 881.4,330.3 881.8,329.3 882.2,332.1 882.6,330.4 883.0,330.8 883.4,331.7 883.8,328.0 884.2,331.3 884.5,330.1 884.9,329.4 885.3,330.8 885.7,329.3 886.1,330.4 886.5,330.7 886.9,330.0 887.3,332.1 887.7,330.9 888.1,332.5 888.5,331.3 888.9,333.2 889.3,333.0 889.7,329.6 890.1,332.8 890.5,333.0 890.9,332.0 891.3,331.7 891.7,332.1 892.1,324.2 892.5,330.8 892.9,333.3 893.3,329.8 893.7,333.2 894.1,331.8 894.5,332.0 894.9,333.5 895.3,331.8 895.7,330.7 896.1,332.9 896.5,331.4 896.9,332.2 897.3,332.0 897.7,332.8 898.1,330.7 898.5,333.3 898.9,332.7 899.3,330.4 899.7,329.6 900.1,330.6 900.5,331.7 900.9,332.9 901.3,330.9 901.7,330.2 902.1,332.4 902.5,332.8 902.9,333.2 903.3,332.4 903.7,331.2 904.1,329.5 904.5,332.8 904.9,331.7 905.3,331.9 905.7,330.1 906.0,330.3 906.4,331.4 906.8,329.2 907.2,329.6 907.6,331.9 908.0,330.5 908.4,329.7 908.8,331.2 909.2,329.8 909.6,330.0 910.0,330.1 910.4,329.2 910.8,331.6 911.2,329.8 911.6,331.4 912.0,331.6 912.4,332.2 912.8,333.4 913.2,332.7 913.6,333.2 914.0,331.0 914.4,332.1 914.8,330.1 915.2,333.5 915.6,332.6 916.0,330.1 916.4,329.7 916.8,333.4 917.2,332.8 917.6,332.9 918.0,332.9 918.4,333.4 918.8,333.5 919.2,330.3 919.6,331.5 920.0,331.0 920.4,333.4 920.8,332.2 921.2,330.9 921.6,332.9 922.0,330.9 922.4,332.1 922.8,332.4 923.2,330.0 923.6,330.2 924.0,330.4 924.4,331.2 924.8,333.7 925.2,331.8 925.6,331.5 926.0,329.9 926.4,331.1 926.8,329.9 927.2,331.1 927.5,331.8 927.9,331.1 928.3,332.5 928.7,333.4 929.1,331.0 929.5,330.2 929.9,331.3 930.3,332.9 930.7,333.8 931.1,331.3 931.5,330.8 931.9,332.9 932.3,333.2 932.7,330.7 933.1,333.4 933.5,333.2 933.9,329.5 934.3,333.1 934.7,330.8 935.1,330.1 935.5,331.1 935.9,330.1 936.3,331.2 936.7,331.9 937.1,329.4 937.5,331.4 937.9,328.6 938.3,330.7 938.7,331.9 939.1,331.3 939.5,330.0 939.9,328.2 940.3,329.7 940.7,329.2 941.1,330.7 941.5,330.5 941.9,330.3 942.3,327.6 942.7,328.1 943.1,328.0 943.5,329.7 943.9,329.7 944.3,326.6 944.7,326.7 945.1,326.5 945.5,329.0 945.9,327.1 946.3,329.6 946.7,326.1 947.1,328.6 947.5,328.1 947.9,330.2 948.3,330.1 948.7,327.8 949.1,327.3 949.4,326.6 949.8,326.6 950.2,328.1 950.6,329.8 951.0,325.9 951.4,328.3 951.8,328.3 952.2,326.3 952.6,327.5 953.0,328.9 953.4,328.9 953.8,325.9 954.2,326.5 954.6,329.5 955.0,327.0 955.4,325.4 955.8,325.4 956.2,325.5 956.6,326.7 957.0,328.0 957.4,326.8 957.8,326.0 958.2,328.2 958.6,325.4 959.0,328.2 959.4,327.1 959.8,325.3 960.2,326.7 960.6,328.2 961.0,328.4 961.4,328.9 961.8,327.6 962.2,324.9 962.6,327.9 963.0,327.0 963.4,328.7 963.8,328.3 964.2,328.2 964.6,325.9 965.0,328.2 965.4,327.4 965.8,328.8 966.2,327.7 966.6,326.1 967.0,325.3 967.4,325.0 967.8,326.4 968.2,328.4 968.6,328.0 969.0,328.1 969.4,328.5 969.8,325.7 970.2,326.3 970.6,327.7 970.9,325.6 971.3,325.4 971.7,327.7 972.1,326.7 972.5,327.1 972.9,325.1 973.3,328.5 973.7,328.6 974.1,328.3 974.5,328.7 974.9,327.4 975.3,325.5 975.7,325.6 976.1,327.3 976.5,324.7 976.9,324.9 977.3,325.6 977.7,325.7 978.1,327.6 978.5,328.0 978.9,328.1 979.3,324.5 979.7,327.3 980.1,325.1 980.5,327.2 980.9,324.5 981.3,326.0 981.7,325.5 982.1,325.5 982.5,327.7 982.9,326.1 983.3,328.2 983.7,325.4 984.1,326.4 984.5,326.5 984.9,324.9 985.3,328.5 985.7,327.6 986.1,328.1 986.5,325.5 986.9,324.8 987.3,327.6 987.7,325.3 988.1,324.1 988.5,326.6 988.9,326.7 989.3,327.2 L989.3,335.5 988.9,335.9 988.5,335.0 988.1,336.9 987.7,337.7 987.3,335.2 986.9,336.0 986.5,335.6 986.1,335.3 985.7,337.3 985.3,337.2 984.9,335.1 984.5,335.6 984.1,337.9 983.7,335.0 983.3,335.1 982.9,336.4 982.5,335.8 982.1,338.3 981.7,336.4 981.3,338.0 980.9,338.5 980.5,337.3 980.1,335.3 979.7,337.4 979.3,335.7 978.9,338.3 978.5,335.0 978.1,335.3 977.7,336.6 977.3,338.2 976.9,337.0 976.5,341.1 976.1,337.4 975.7,339.0 975.3,335.0 974.9,338.1 974.5,335.6 974.1,334.9 973.7,335.2 973.3,336.6 972.9,337.1 972.5,336.4 972.1,335.3 971.7,338.2 971.3,338.7 970.9,335.9 970.6,338.4 970.2,339.1 969.8,336.3 969.4,336.7 969.0,336.7 968.6,337.9 968.2,338.0 967.8,336.6 967.4,337.9 967.0,339.1 966.6,336.2 966.2,338.6 965.8,337.3 965.4,335.9 965.0,338.5 964.6,346.5 964.2,335.4 963.8,337.2 963.4,335.1 963.0,335.5 962.6,335.9 962.2,338.4 961.8,339.1 961.4,336.1 961.0,335.3 960.6,335.3 960.2,338.6 959.8,336.2 959.4,335.8 959.0,336.3 958.6,337.3 958.2,337.2 957.8,337.3 957.4,335.8 957.0,336.2 956.6,338.0 956.2,339.2 955.8,338.9 955.4,336.3 955.0,338.9 954.6,339.6 954.2,335.5 953.8,337.9 953.4,337.5 953.0,337.5 952.6,336.0 952.2,337.1 951.8,339.8 951.4,336.7 951.0,347.4 950.6,339.5 950.2,338.6 949.8,338.7 949.4,338.8 949.1,336.5 948.7,338.6 948.3,336.0 947.9,339.2 947.5,338.3 947.1,338.9 946.7,337.9 946.3,338.2 945.9,339.3 945.5,337.5 945.1,339.7 944.7,338.1 944.3,339.0 943.9,336.7 943.5,340.6 943.1,337.4 942.7,336.9 942.3,339.7 941.9,340.3 941.5,339.0 941.1,340.5 940.7,339.4 940.3,340.7 939.9,338.6 939.5,339.5 939.1,338.8 938.7,340.6 938.3,340.4 937.9,338.9 937.5,340.5 937.1,338.7 936.7,340.2 936.3,339.0 935.9,341.9 935.5,340.9 935.1,338.7 934.7,341.8 934.3,339.4 933.9,339.4 933.5,339.3 933.1,342.6 932.7,338.8 932.3,339.3 931.9,340.2 931.5,339.5 931.1,343.0 930.7,341.6 930.3,340.1 929.9,342.1 929.5,341.4 929.1,339.5 928.7,342.0 928.3,341.3 927.9,343.1 927.5,341.8 927.2,341.8 926.8,341.6 926.4,342.9 926.0,341.3 925.6,342.5 925.2,339.0 924.8,339.8 924.4,341.2 924.0,342.8 923.6,340.2 923.2,342.0 922.8,340.9 922.4,340.3 922.0,340.0 921.6,340.9 921.2,349.7 920.8,342.7 920.4,342.7 920.0,342.5 919.6,343.0 919.2,340.0 918.8,342.5 918.4,341.4 918.0,342.5 917.6,342.6 917.2,343.2 916.8,342.1 916.4,342.3 916.0,341.9 915.6,343.1 915.2,342.6 914.8,340.2 914.4,339.9 914.0,339.6 913.6,339.3 913.2,340.8 912.8,339.5 912.4,339.6 912.0,340.3 911.6,340.6 911.2,340.5 910.8,342.3 910.4,343.4 910.0,343.1 909.6,341.1 909.2,341.7 908.8,341.7 908.4,339.8 908.0,343.0 907.6,340.1 907.2,341.9 906.8,341.6 906.4,342.8 906.0,339.7 905.7,342.6 905.3,339.7 904.9,343.6 904.5,340.4 904.1,340.0 903.7,343.2 903.3,341.6 902.9,341.7 902.5,340.0 902.1,341.3 901.7,341.8 901.3,339.6 900.9,340.1 900.5,340.1 900.1,340.4 899.7,342.4 899.3,343.3 898.9,343.5 898.5,340.3 898.1,340.4 897.7,341.6 897.3,340.2 896.9,339.7 896.5,343.2 896.1,342.0 895.7,342.9 895.3,341.2 894.9,341.8 894.5,341.0 894.1,341.1 893.7,340.6 893.3,340.8 892.9,341.8 892.5,340.6 892.1,340.9 891.7,343.7 891.3,339.7 890.9,339.6 890.5,339.8 890.1,339.9 889.7,342.2 889.3,342.2 888.9,341.1 888.5,342.8 888.1,339.3 887.7,341.4 887.3,340.6 886.9,343.3 886.5,340.7 886.1,340.8 885.7,340.9 885.3,342.4 884.9,341.7 884.5,340.3 884.2,339.2 883.8,340.3 883.4,340.4 883.0,342.3 882.6,343.1 882.2,341.0 881.8,339.8 881.4,342.3 881.0,342.5 880.6,342.2 880.2,340.9 879.8,339.2 879.4,341.7 879.0,341.2 878.6,339.9 878.2,340.2 877.8,341.2 877.4,340.6 877.0,339.8 876.6,341.4 876.2,342.0 875.8,339.9 875.4,340.9 875.0,340.0 874.6,340.0 874.2,342.0 873.8,340.5 873.4,340.5 873.0,338.4 872.6,341.2 872.2,339.6 871.8,338.5 871.4,340.9 871.0,340.1 870.6,342.2 870.2,338.9 869.8,341.2 869.4,341.6 869.0,338.1 868.6,340.8 868.2,338.0 867.8,341.2 867.4,338.9 867.0,339.8 866.6,337.9 866.2,338.3 865.8,340.8 865.4,337.9 865.0,340.1 864.6,337.9 864.2,340.8 863.8,336.9 863.4,336.9 863.0,337.9 862.6,339.1 862.3,339.7 861.9,339.4 861.5,340.2 861.1,336.4 860.7,339.3 860.3,339.3 859.9,339.9 859.5,340.0 859.1,339.0 858.7,337.0 858.3,338.1 857.9,335.8 857.5,335.8 857.1,335.5 856.7,335.3 856.3,337.3 855.9,336.8 855.5,336.7 855.1,335.8 854.7,337.1 854.3,338.3 853.9,338.4 853.5,337.8 853.1,334.7 852.7,338.7 852.3,333.6 851.9,334.6 851.5,333.2 851.1,336.6 850.7,333.7 850.3,334.6 849.9,343.5 849.5,333.2 849.1,332.9 848.7,332.7 848.3,334.2 847.9,334.4 847.5,333.2 847.1,333.4 846.7,333.3 846.3,330.4 845.9,328.0 845.5,326.6 845.1,327.2 844.7,325.4 844.3,324.7 843.9,326.6 843.5,324.0 843.1,321.8 842.7,322.3 842.3,322.7 841.9,318.9 841.5,319.8 841.1,320.5 840.8,316.4 840.4,315.1 840.0,316.3 839.6,316.0 839.2,314.8 838.8,311.7 838.4,313.8 838.0,312.2 837.6,308.3 837.2,310.7 836.8,310.6 836.4,306.0 836.0,307.9 835.6,305.6 835.2,305.4 834.8,302.9 834.4,303.3 834.0,300.7 833.6,299.8 833.2,300.2 832.8,297.9 832.4,296.7 832.0,298.5 831.6,296.1 831.2,297.4 830.8,296.7 830.4,293.5 830.0,293.6 829.6,294.2 829.2,290.9 828.8,289.7 828.4,291.2 828.0,288.6 827.6,287.7 827.2,287.4 826.8,286.2 826.4,286.7 826.0,283.3 825.6,282.9 825.2,281.9 824.8,280.3 824.4,279.5 824.0,288.3 823.6,280.5 823.2,275.3 822.8,276.2 822.4,275.9 822.0,271.7 821.6,272.5 821.2,272.3 820.8,269.0 820.4,270.5 820.0,268.6 819.6,268.0 819.2,267.1 818.9,264.0 818.5,263.8 818.1,260.7 817.7,260.9 817.3,262.2 816.9,260.0 816.5,262.0 816.1,261.8 815.7,262.8 815.3,260.2 814.9,261.5 814.5,263.7 814.1,260.9 813.7,260.0 813.3,259.8 812.9,260.9 812.5,260.6 812.1,261.4 811.7,260.0 811.3,263.7 810.9,261.3 810.5,262.6 810.1,262.7 809.7,263.5 809.3,261.5 808.9,260.8 808.5,262.0 808.1,262.7 807.7,260.2 807.3,262.6 806.9,262.1 806.5,260.7 806.1,262.3 805.7,260.4 805.3,263.9 804.9,262.9 804.5,263.4 804.1,261.0 803.7,261.3 803.3,261.0 802.9,263.4 802.5,261.5 802.1,261.1 801.7,260.6 801.3,263.6 800.9,261.5 800.5,263.9 800.1,263.7 799.7,260.0 799.3,263.9 798.9,261.5 798.5,263.7 798.1,261.3 797.7,270.1 797.4,262.1 797.0,263.1 796.6,262.3 796.2,261.0 795.8,262.7 795.4,259.8 795.0,261.6 794.6,261.3 794.2,260.6 793.8,260.5 793.4,263.3 793.0,262.0 792.6,260.5 792.2,264.1 791.8,264.0 791.4,261.5 791.0,262.7 790.6,261.4 790.2,262.0 789.8,263.8 789.4,259.9 789.0,263.9 788.6,263.8 788.2,260.4 787.8,262.0 787.4,261.5 787.0,262.9 786.6,262.4 786.2,262.3 785.8,263.1 785.4,263.7 785.0,263.1 784.6,263.3 784.2,261.4 783.8,264.0 783.4,261.8 783.0,263.7 782.6,261.3 782.2,262.5 781.8,260.2 781.4,261.1 781.0,262.9 780.6,261.1 780.2,263.9 779.8,261.6 779.4,261.0 779.0,261.6 778.6,261.1 778.2,264.7 777.8,263.3 777.4,263.6 777.0,264.5 776.6,264.8 776.2,266.8 775.8,262.4 775.5,264.9 775.1,264.6 774.7,265.2 774.3,262.5 773.9,263.4 773.5,265.2 773.1,263.7 772.7,261.9 772.3,263.5 771.9,264.5 771.5,263.7 771.1,264.5 770.7,262.6 770.3,265.7 769.9,263.8 769.5,261.9 769.1,263.1 768.7,262.3 768.3,261.8 767.9,263.5 767.5,265.7 767.1,265.7 766.7,262.3 766.3,262.4 765.9,265.2 765.5,264.3 765.1,263.1 764.7,262.9 764.3,264.2 763.9,273.6 763.5,263.7 763.1,263.7 762.7,266.8 762.3,263.8 761.9,266.5 761.5,266.5 761.1,264.2 760.7,264.5 760.3,265.2 759.9,263.5 759.5,264.4 759.1,267.1 758.7,267.0 758.3,267.3 757.9,263.5 757.5,264.3 757.1,265.1 756.7,265.1 756.3,264.5 755.9,267.1 755.5,268.0 755.1,264.4 754.7,265.0 754.3,268.6 754.0,268.7 753.6,265.0 753.2,268.5 752.8,265.7 752.4,269.2 752.0,267.0 751.6,267.3 751.2,270.4 750.8,268.9 750.4,269.9 750.0,267.4 749.6,266.6 749.2,268.0 748.8,268.5 748.4,266.5 748.0,267.4 747.6,269.0 747.2,267.4 746.8,268.1 746.4,270.4 746.0,270.3 745.6,270.5 745.2,273.3 744.8,270.1 744.4,268.6 744.0,270.0 743.6,271.7 743.2,271.0 742.8,269.6 742.4,271.3 742.0,270.5 741.6,271.8 741.2,268.6 740.8,274.0 740.4,270.4 740.0,271.7 739.6,268.9 739.2,271.9 738.8,269.3 738.4,278.2 738.0,269.6 737.6,273.4 737.2,273.4 736.8,269.8 736.4,272.6 736.0,271.3 735.6,273.7 735.2,273.6 734.8,273.7 734.4,273.5 734.0,273.4 733.6,273.7 733.2,271.1 732.8,275.0 732.5,274.1 732.1,273.0 731.7,273.9 731.3,275.4 730.9,273.9 730.5,274.5 730.1,273.8 729.7,276.4 729.3,274.1 728.9,284.0 728.5,274.8 728.1,275.6 727.7,275.6 727.3,275.5 726.9,274.6 726.5,275.7 726.1,274.8 725.7,277.0 725.3,275.0 724.9,275.9 724.5,275.0 724.1,274.8 723.7,275.5 723.3,275.3 722.9,278.4 722.5,277.5 722.1,287.3 721.7,278.8 721.3,278.9 720.9,282.5 720.5,283.9 720.1,283.2 719.7,282.0 719.3,284.1 718.9,283.7 718.5,285.0 718.1,284.2 717.7,287.9 717.3,289.4 716.9,288.3 716.5,289.3 716.1,288.2 715.7,291.8 715.3,292.2 714.9,293.0 714.5,291.8 714.1,294.0 713.7,293.3 713.3,295.2 712.9,295.2 712.5,293.1 712.1,294.3 711.7,295.6 711.3,295.3 710.9,296.0 710.6,296.8 710.2,296.5 709.8,299.6 709.4,298.4 709.0,299.4 708.6,301.8 708.2,298.8 707.8,301.6 707.4,302.2 707.0,301.2 706.6,302.6 706.2,301.0 705.8,304.9 705.4,305.0 705.0,302.6 704.6,304.4 704.2,310.4 703.8,304.7 703.4,308.4 703.0,309.6 702.6,309.7 702.2,309.9 701.8,309.0 701.4,308.5 701.0,311.9 700.6,311.5 700.2,314.0 699.8,314.0 699.4,311.5 699.0,313.2 698.6,313.8 698.2,314.8 697.8,315.9 697.4,328.4 697.0,316.0 696.6,316.8 696.2,316.8 695.8,321.1 695.4,320.6 695.0,320.2 694.6,319.8 694.2,322.5 693.8,322.0 693.4,322.1 693.0,324.4 692.6,324.9 692.2,323.3 691.8,325.2 691.4,326.0 691.0,327.4 690.6,327.9 690.2,329.1 689.8,328.2 689.4,329.7 689.1,328.8 688.7,329.5 688.3,330.2 687.9,330.6 687.5,332.9 687.1,331.5 686.7,332.5 686.3,334.6 685.9,335.3 685.5,335.8 685.1,336.3 684.7,337.4 684.3,338.2 683.9,338.1 683.5,337.2 683.1,338.6 682.7,338.5 682.3,339.0 681.9,337.3 681.5,336.1 681.1,335.8 680.7,336.0 680.3,335.8 679.9,335.5 679.5,337.2 679.1,347.7 678.7,339.9 678.3,338.1 677.9,336.9 677.5,336.1 677.1,336.2 676.7,336.6 676.3,337.1 675.9,338.3 675.5,337.3 675.1,336.2 674.7,337.6 674.3,338.2 673.9,336.9 673.5,339.2 673.1,338.5 672.7,339.9 672.3,339.4 671.9,336.5 671.5,336.9 671.1,339.2 670.7,337.4 670.3,337.7 669.9,339.8 669.5,337.9 669.1,338.8 668.7,337.1 668.3,338.8 667.9,336.3 667.5,336.6 667.2,337.5 666.8,338.2 666.4,336.8 666.0,339.5 665.6,338.6 665.2,335.6 664.8,337.2 664.4,336.2 664.0,335.6 663.6,336.9 663.2,339.4 662.8,336.8 662.4,335.5 662.0,336.7 661.6,339.1 661.2,335.5 660.8,337.0 660.4,337.1 660.0,339.3 659.6,336.2 659.2,336.1 658.8,336.1 658.4,335.4 658.0,336.3 657.6,343.8 657.2,336.2 656.8,339.3 656.4,336.1 656.0,335.4 655.6,336.2 655.2,339.1 654.8,337.5 654.4,338.2 654.0,335.7 653.6,338.7 653.2,343.9 652.8,335.2 652.4,339.1 652.0,336.2 651.6,337.2 651.2,335.3 650.8,336.8 650.4,337.4 650.0,336.4 649.6,336.9 649.2,337.1 648.8,335.6 648.4,337.7 648.0,336.2 647.6,338.9 647.2,338.1 646.8,337.9 646.4,337.6 646.0,336.4 645.7,335.9 645.3,335.2 644.9,336.3 644.5,336.3 644.1,338.7 643.7,334.7 643.3,335.2 642.9,342.0 642.5,337.6 642.1,335.1 641.7,337.0 641.3,335.6 640.9,336.4 640.5,335.3 640.1,336.4 639.7,337.3 639.3,334.4 638.9,335.4 638.5,336.9 638.1,335.9 637.7,335.1 637.3,335.3 636.9,336.5 636.5,334.2 636.1,336.8 635.7,335.6 635.3,337.0 634.9,337.6 634.5,336.3 634.1,336.7 633.7,336.7 633.3,335.3 632.9,336.7 632.5,334.9 632.1,335.6 631.7,334.7 631.3,333.8 630.9,334.8 630.5,334.9 630.1,335.0 629.7,337.4 629.3,334.7 628.9,333.9 628.5,336.6 628.1,336.5 627.7,335.7 627.3,337.5 626.9,336.6 626.5,334.2 626.1,334.7 625.7,334.1 625.3,333.9 624.9,334.8 624.5,337.0 624.2,337.3 623.8,333.5 623.4,337.2 623.0,337.1 622.6,336.5 622.2,337.3 621.8,335.3 621.4,335.5 621.0,333.9 620.6,333.7 620.2,334.7 619.8,336.8 619.4,333.6 619.0,333.2 618.6,333.4 618.2,335.3 617.8,335.8 617.4,334.8 617.0,335.4 616.6,335.2 616.2,333.8 615.8,335.1 615.4,335.8 615.0,332.7 614.6,335.0 614.2,336.6 613.8,336.7 613.4,335.3 613.0,333.7 612.6,336.8 612.2,332.9 611.8,335.6 611.4,336.3 611.0,333.6 610.6,334.5 610.2,336.2 609.8,336.2 609.4,336.3 609.0,336.7 608.6,333.9 608.2,337.1 607.8,335.9 607.4,337.2 607.0,336.4 606.6,336.4 606.2,335.2 605.8,334.1 605.4,335.2 605.0,335.2 604.6,336.5 604.2,333.4 603.8,336.6 603.4,334.1 603.0,333.1 602.6,333.0 602.3,333.9 601.9,333.5 601.5,336.8 601.1,336.0 600.7,337.2 600.3,333.1 599.9,334.1 599.5,337.2 599.1,334.3 598.7,335.5 598.3,334.8 597.9,333.4 597.5,343.0 597.1,337.4 596.7,336.0 596.3,335.1 595.9,334.5 595.5,336.1 595.1,336.4 594.7,334.4 594.3,335.7 593.9,334.5 593.5,335.1 593.1,333.5 592.7,335.8 592.3,333.8 591.9,333.5 591.5,337.3 591.1,336.8 590.7,335.2 590.3,334.9 589.9,334.0Z" stroke="#231f20" stroke-width="0.4" fill="#231f20" />
<text x="1026.5" y="29.4" font-size="38" font-weight="bold" >c</text>
<text x="1147.3" y="41.7" font-size="29">K<tspan font-size="20.3" dy="7">ATP</tspan><tspan dy="-7"> Currents</tspan></text>
<line x1="1141.0" y1="75.8" x2="1141.0" y2="407.8" stroke="#000" stroke-width="2.9" />
<line x1="1134.4" y1="406.3" x2="1390.0" y2="406.3" stroke="#000" stroke-width="2.9" />
<line x1="1141.0" y1="406.8" x2="1390.0" y2="406.8" stroke="#555" stroke-width="0.8" stroke-dasharray="1.5 2.5"/>
<line x1="1134.4" y1="406.3" x2="1141.0" y2="406.3" stroke="#000" stroke-width="2.9" />
<text x="1122.0" y="416.5" font-size="28.6" text-anchor="end" >0</text>
<line x1="1134.4" y1="296.6" x2="1141.0" y2="296.6" stroke="#000" stroke-width="2.9" />
<text x="1122.0" y="306.8" font-size="28.6" text-anchor="end" >50</text>
<line x1="1134.4" y1="186.9" x2="1141.0" y2="186.9" stroke="#000" stroke-width="2.9" />
<text x="1122.0" y="197.1" font-size="28.6" text-anchor="end" >100</text>
<line x1="1134.4" y1="77.2" x2="1141.0" y2="77.2" stroke="#000" stroke-width="2.9" />
<text x="1122.0" y="87.4" font-size="28.6" text-anchor="end" >150</text>
<line x1="1203.3" y1="406.3" x2="1203.3" y2="412.7" stroke="#000" stroke-width="2.9" />
<line x1="1328.0" y1="406.3" x2="1328.0" y2="412.7" stroke="#000" stroke-width="2.9" />
<text x="1051.5" y="246.0" font-size="28.6" text-anchor="middle" transform="rotate(-90 1051.5 246.0)">K<tspan font-size="20.0" dy="7">ATP</tspan><tspan dy="-7"> currents (pA)</tspan></text>
<rect x="1163.5" y="289.9" width="81.1" height="116.4" stroke="#3a53a4" stroke-width="2.7" fill="none"/>
<line x1="1203.7" y1="276.9" x2="1203.7" y2="301.4" stroke="#3a53a4" stroke-width="2.8" />
<line x1="1185.2" y1="276.9" x2="1222.9" y2="276.9" stroke="#3a53a4" stroke-width="2.8" stroke-linecap="round"/>
<line x1="1185.2" y1="301.4" x2="1222.9" y2="301.4" stroke="#3a53a4" stroke-width="2.8" stroke-linecap="round"/>
<circle cx="1203.7" cy="213.5" r="6.1" stroke="#3a53a4" stroke-width="2.8" fill="none"/>
<circle cx="1194.2" cy="235.8" r="6.1" stroke="#3a53a4" stroke-width="2.8" fill="none"/>
<circle cx="1213.0" cy="231.4" r="6.1" stroke="#3a53a4" stroke-width="2.8" fill="none"/>
<circle cx="1175.5" cy="264.0" r="6.1" stroke="#3a53a4" stroke-width="2.8" fill="none"/>
<circle cx="1194.2" cy="276.0" r="6.1" stroke="#3a53a4" stroke-width="2.8" fill="none"/>
<circle cx="1222.4" cy="274.6" r="6.1" stroke="#3a53a4" stroke-width="2.8" fill="none"/>
<circle cx="1222.4" cy="279.5" r="6.1" stroke="#3a53a4" stroke-width="2.8" fill="none"/>
<circle cx="1213.0" cy="291.0" r="6.1" stroke="#3a53a4" stroke-width="2.8" fill="none"/>
<circle cx="1194.2" cy="304.8" r="6.1" stroke="#3a53a4" stroke-width="2.8" fill="none"/>
<circle cx="1222.4" cy="316.9" r="6.1" stroke="#3a53a4" stroke-width="2.8" fill="none"/>
<circle cx="1185.0" cy="331.3" r="6.1" stroke="#3a53a4" stroke-width="2.8" fill="none"/>
<circle cx="1203.7" cy="335.0" r="6.1" stroke="#3a53a4" stroke-width="2.8" fill="none"/>
<circle cx="1213.0" cy="347.4" r="6.1" stroke="#3a53a4" stroke-width="2.8" fill="none"/>
<circle cx="1194.2" cy="356.6" r="6.1" stroke="#3a53a4" stroke-width="2.8" fill="none"/>
<rect x="1286.3" y="401.8" width="82.6" height="4.5" stroke="#ed1c24" stroke-width="2.7" fill="none"/>
<circle cx="1328.0" cy="388.3" r="6.0" stroke="#ed1c24" stroke-width="2.7" fill="none"/>
<circle cx="1295.0" cy="394.9" r="6.0" stroke="#ed1c24" stroke-width="2.7" fill="none"/>
<circle cx="1302.0" cy="397.0" r="6.0" stroke="#ed1c24" stroke-width="2.7" fill="none"/>
<circle cx="1309.4" cy="399.8" r="6.0" stroke="#ed1c24" stroke-width="2.7" fill="none"/>
<circle cx="1315.7" cy="402.0" r="6.0" stroke="#ed1c24" stroke-width="2.7" fill="none"/>
<circle cx="1321.7" cy="407.0" r="6.0" stroke="#ed1c24" stroke-width="2.7" fill="none"/>
<circle cx="1328.0" cy="408.4" r="6.0" stroke="#ed1c24" stroke-width="2.7" fill="none"/>
<circle cx="1333.8" cy="407.0" r="6.0" stroke="#ed1c24" stroke-width="2.7" fill="none"/>
<circle cx="1340.0" cy="402.7" r="6.0" stroke="#ed1c24" stroke-width="2.7" fill="none"/>
<circle cx="1346.8" cy="400.4" r="6.0" stroke="#ed1c24" stroke-width="2.7" fill="none"/>
<circle cx="1354.5" cy="397.5" r="6.0" stroke="#ed1c24" stroke-width="2.7" fill="none"/>
<circle cx="1361.0" cy="396.0" r="6.0" stroke="#ed1c24" stroke-width="2.7" fill="none"/>
<text x="1330.0" y="360.0" font-size="57" text-anchor="middle" font-weight="bold" fill="#000" letter-spacing="0.8">***</text>
<text x="1219.5" y="438.5" font-size="29.7" text-anchor="end" transform="rotate(-45 1219.5 438.5)">GE-ERα<tspan font-size="20.5" dy="-11">vlVMH</tspan></text>
<text x="1343.5" y="438.5" font-size="29.7" text-anchor="end" transform="rotate(-45 1343.5 438.5)">GI-ERα<tspan font-size="20.5" dy="-11">vlVMH</tspan></text>
<text x="0.0" y="633.5" font-size="38" font-weight="bold" >d</text>
<text x="122.2" y="658.6" font-size="29">GE-ERα<tspan font-size="20.3" dy="-11.5">vlVMH</tspan><tspan dy="11.5"> Neurons</tspan></text>
<line x1="145.7" y1="700.2" x2="145.7" y2="1033.8" stroke="#000" stroke-width="2.9" />
<line x1="138.0" y1="1032.6" x2="393.4" y2="1032.6" stroke="#000" stroke-width="2.9" />
<line x1="145.7" y1="767.4" x2="392.4" y2="767.4" stroke="#000" stroke-width="2.9" />
<line x1="138.0" y1="701.1" x2="145.7" y2="701.1" stroke="#000" stroke-width="2.9" />
<text x="126.0" y="711.3" font-size="28.6" text-anchor="end" >2</text>
<line x1="138.0" y1="767.4" x2="145.7" y2="767.4" stroke="#000" stroke-width="2.9" />
<text x="126.0" y="777.6" font-size="28.6" text-anchor="end" >0</text>
<line x1="138.0" y1="833.7" x2="145.7" y2="833.7" stroke="#000" stroke-width="2.9" />
<text x="126.0" y="843.9" font-size="28.6" text-anchor="end" >−2</text>
<line x1="138.0" y1="899.9" x2="145.7" y2="899.9" stroke="#000" stroke-width="2.9" />
<text x="126.0" y="910.1" font-size="28.6" text-anchor="end" >−4</text>
<line x1="138.0" y1="966.2" x2="145.7" y2="966.2" stroke="#000" stroke-width="2.9" />
<text x="126.0" y="976.4" font-size="28.6" text-anchor="end" >−6</text>
<line x1="138.0" y1="1032.4" x2="145.7" y2="1032.4" stroke="#000" stroke-width="2.9" />
<text x="126.0" y="1042.6" font-size="28.6" text-anchor="end" >−8</text>
<line x1="215.3" y1="1032.6" x2="215.3" y2="1038.5" stroke="#000" stroke-width="2.9" />
<line x1="322.0" y1="1032.6" x2="322.0" y2="1038.5" stroke="#000" stroke-width="2.9" />
<text x="34.5" y="868.5" font-size="28" text-anchor="middle" transform="rotate(-90 34.5 868.5)" textLength="263.0" lengthAdjust="spacingAndGlyphs" >ΔResting membrane</text>
<text x="70.3" y="868.5" font-size="28" text-anchor="middle" transform="rotate(-90 70.3 868.5)" textLength="179.0" lengthAdjust="spacingAndGlyphs" >potential (mV)</text>
<rect x="182.5" y="767.4" width="68.6" height="107.2" stroke="#3a53a4" stroke-width="2.7" fill="none"/>
<line x1="217.0" y1="867.9" x2="217.0" y2="880.6" stroke="#3a53a4" stroke-width="2.8" />
<line x1="205.0" y1="867.9" x2="230.0" y2="867.9" stroke="#3a53a4" stroke-width="2.8" stroke-linecap="round"/>
<line x1="205.0" y1="880.6" x2="230.0" y2="880.6" stroke="#3a53a4" stroke-width="2.8" stroke-linecap="round"/>
<circle cx="216.0" cy="837.0" r="6.1" stroke="#3a53a4" stroke-width="2.8" fill="#fff"/>
<circle cx="242.7" cy="847.8" r="6.1" stroke="#3a53a4" stroke-width="2.8" fill="#fff"/>
<circle cx="189.8" cy="854.5" r="6.1" stroke="#3a53a4" stroke-width="2.8" fill="#fff"/>
<circle cx="225.0" cy="854.5" r="6.1" stroke="#3a53a4" stroke-width="2.8" fill="#fff"/>
<circle cx="206.9" cy="865.2" r="6.1" stroke="#3a53a4" stroke-width="2.8" fill="#fff"/>
<circle cx="198.2" cy="876.2" r="6.1" stroke="#3a53a4" stroke-width="2.8" fill="#fff"/>
<circle cx="211.6" cy="874.6" r="6.1" stroke="#3a53a4" stroke-width="2.8" fill="#fff"/>
<circle cx="223.6" cy="876.2" r="6.1" stroke="#3a53a4" stroke-width="2.8" fill="#fff"/>
<circle cx="234.3" cy="877.2" r="6.1" stroke="#3a53a4" stroke-width="2.8" fill="#fff"/>
<circle cx="209.2" cy="888.0" r="6.1" stroke="#3a53a4" stroke-width="2.8" fill="#fff"/>
<circle cx="222.6" cy="888.0" r="6.1" stroke="#3a53a4" stroke-width="2.8" fill="#fff"/>
<circle cx="225.3" cy="900.3" r="6.1" stroke="#3a53a4" stroke-width="2.8" fill="#fff"/>
<circle cx="206.6" cy="919.0" r="6.1" stroke="#3a53a4" stroke-width="2.8" fill="#fff"/>
<rect x="288.6" y="758.4" width="69.6" height="9.0" stroke="#3a53a4" stroke-width="2.7" fill="none"/>
<line x1="311.0" y1="750.7" x2="340.0" y2="750.7" stroke="#2a2a2a" stroke-width="2.7" />
<line x1="325.5" y1="750.7" x2="325.5" y2="758.4" stroke="#2a2a2a" stroke-width="2.7" />
<circle cx="323.0" cy="707.8" r="6.2" stroke="#c8c8c8" stroke-width="3.5" fill="none"/>
<circle cx="323.0" cy="707.8" r="6.0" stroke="#2a2a2a" stroke-width="2.4" fill="#fff"/>
<circle cx="313.0" cy="718.9" r="6.2" stroke="#c8c8c8" stroke-width="3.5" fill="none"/>
<circle cx="313.0" cy="718.9" r="6.0" stroke="#2a2a2a" stroke-width="2.4" fill="#fff"/>
<circle cx="332.0" cy="727.9" r="6.2" stroke="#c8c8c8" stroke-width="3.5" fill="none"/>
<circle cx="332.0" cy="727.9" r="6.0" stroke="#2a2a2a" stroke-width="2.4" fill="#fff"/>
<circle cx="313.0" cy="754.7" r="6.2" stroke="#c8c8c8" stroke-width="3.5" fill="none"/>
<circle cx="313.0" cy="754.7" r="6.0" stroke="#2a2a2a" stroke-width="2.4" fill="#fff"/>
<circle cx="323.0" cy="754.0" r="6.2" stroke="#c8c8c8" stroke-width="3.5" fill="none"/>
<circle cx="323.0" cy="754.0" r="6.0" stroke="#2a2a2a" stroke-width="2.4" fill="#fff"/>
<circle cx="304.6" cy="764.8" r="6.2" stroke="#c8c8c8" stroke-width="3.5" fill="none"/>
<circle cx="304.6" cy="764.8" r="6.0" stroke="#2a2a2a" stroke-width="2.4" fill="#fff"/>
<circle cx="331.4" cy="761.4" r="6.2" stroke="#c8c8c8" stroke-width="3.5" fill="none"/>
<circle cx="331.4" cy="761.4" r="6.0" stroke="#2a2a2a" stroke-width="2.4" fill="#fff"/>
<circle cx="340.8" cy="767.4" r="6.2" stroke="#c8c8c8" stroke-width="3.5" fill="none"/>
<circle cx="340.8" cy="767.4" r="6.0" stroke="#2a2a2a" stroke-width="2.4" fill="#fff"/>
<circle cx="316.4" cy="771.8" r="6.2" stroke="#c8c8c8" stroke-width="3.5" fill="none"/>
<circle cx="316.4" cy="771.8" r="6.0" stroke="#2a2a2a" stroke-width="2.4" fill="#fff"/>
<circle cx="328.8" cy="772.5" r="6.2" stroke="#c8c8c8" stroke-width="3.5" fill="none"/>
<circle cx="328.8" cy="772.5" r="6.0" stroke="#2a2a2a" stroke-width="2.4" fill="#fff"/>
<circle cx="303.6" cy="775.1" r="6.2" stroke="#c8c8c8" stroke-width="3.5" fill="none"/>
<circle cx="303.6" cy="775.1" r="6.0" stroke="#2a2a2a" stroke-width="2.4" fill="#fff"/>
<circle cx="322.4" cy="792.5" r="6.2" stroke="#c8c8c8" stroke-width="3.5" fill="none"/>
<circle cx="322.4" cy="792.5" r="6.0" stroke="#2a2a2a" stroke-width="2.4" fill="#fff"/>
<circle cx="341.5" cy="791.5" r="6.2" stroke="#c8c8c8" stroke-width="3.5" fill="none"/>
<circle cx="341.5" cy="791.5" r="6.0" stroke="#2a2a2a" stroke-width="2.4" fill="#fff"/>
<text x="325.2" y="893.0" font-size="57" text-anchor="middle" font-weight="bold" fill="#000" letter-spacing="0.8">***</text>
<circle cx="176.8" cy="978.4" r="6.1" stroke="#3a53a4" stroke-width="2.8" fill="none"/>
<text x="199.2" y="985.0" font-size="24" textLength="115.5" lengthAdjust="spacingAndGlyphs" >No blocker</text>
<circle cx="176.8" cy="1011.8" r="6.2" stroke="#c8c8c8" stroke-width="3.5" fill="none"/>
<circle cx="176.8" cy="1011.8" r="6.0" stroke="#2a2a2a" stroke-width="2.4" fill="#fff"/>
<text x="199.2" y="1017.9" font-size="24" textLength="131.6" lengthAdjust="spacingAndGlyphs" >Tolbutamide</text>
<text x="511.8" y="632.9" font-size="38" font-weight="bold" >e</text>
<text x="615.5" y="656.3" font-size="29">GI-ERα<tspan font-size="20.3" dy="-11.5">vlVMH</tspan><tspan dy="11.5"> Neurons</tspan></text>
<line x1="634.0" y1="698.3" x2="634.0" y2="1032.0" stroke="#000" stroke-width="2.9" />
<line x1="626.3" y1="1030.6" x2="882.4" y2="1030.6" stroke="#000" stroke-width="2.9" />
<line x1="626.3" y1="1030.6" x2="634.0" y2="1030.6" stroke="#000" stroke-width="2.9" />
<text x="614.5" y="1040.8" font-size="28.6" text-anchor="end" >0</text>
<line x1="626.3" y1="947.8" x2="634.0" y2="947.8" stroke="#000" stroke-width="2.9" />
<text x="614.5" y="958.0" font-size="28.6" text-anchor="end" >2</text>
<line x1="626.3" y1="865.0" x2="634.0" y2="865.0" stroke="#000" stroke-width="2.9" />
<text x="614.5" y="875.2" font-size="28.6" text-anchor="end" >4</text>
<line x1="626.3" y1="782.2" x2="634.0" y2="782.2" stroke="#000" stroke-width="2.9" />
<text x="614.5" y="792.4" font-size="28.6" text-anchor="end" >6</text>
<line x1="626.3" y1="699.4" x2="634.0" y2="699.4" stroke="#000" stroke-width="2.9" />
<text x="614.5" y="709.6" font-size="28.6" text-anchor="end" >8</text>
<line x1="704.3" y1="1030.6" x2="704.3" y2="1036.5" stroke="#000" stroke-width="2.9" />
<line x1="811.4" y1="1030.6" x2="811.4" y2="1036.5" stroke="#000" stroke-width="2.9" />
<text x="539.5" y="868.2" font-size="28" text-anchor="middle" transform="rotate(-90 539.5 868.2)" textLength="263.7" lengthAdjust="spacingAndGlyphs" >ΔResting membrane</text>
<text x="572.0" y="868.3" font-size="28" text-anchor="middle" transform="rotate(-90 572.0 868.3)" textLength="178.6" lengthAdjust="spacingAndGlyphs" >potential (mV)</text>
<rect x="670.1" y="907.0" width="69.3" height="123.6" stroke="#ed1c24" stroke-width="2.7" fill="none"/>
<line x1="704.3" y1="896.3" x2="704.3" y2="916.4" stroke="#ed1c24" stroke-width="2.8" />
<line x1="688.5" y1="896.3" x2="720.0" y2="896.3" stroke="#ed1c24" stroke-width="2.8" stroke-linecap="round"/>
<line x1="688.5" y1="916.4" x2="720.0" y2="916.4" stroke="#ed1c24" stroke-width="2.8" stroke-linecap="round"/>
<circle cx="704.3" cy="852.1" r="6.1" stroke="#ed1c24" stroke-width="2.8" fill="#fff"/>
<circle cx="694.9" cy="871.2" r="6.1" stroke="#ed1c24" stroke-width="2.8" fill="#fff"/>
<circle cx="713.6" cy="869.5" r="6.1" stroke="#ed1c24" stroke-width="2.8" fill="#fff"/>
<circle cx="685.8" cy="905.7" r="6.1" stroke="#ed1c24" stroke-width="2.8" fill="#fff"/>
<circle cx="722.7" cy="904.0" r="6.1" stroke="#ed1c24" stroke-width="2.8" fill="#fff"/>
<circle cx="704.3" cy="921.4" r="6.1" stroke="#ed1c24" stroke-width="2.8" fill="#fff"/>
<circle cx="731.7" cy="929.8" r="6.1" stroke="#ed1c24" stroke-width="2.8" fill="#fff"/>
<circle cx="677.5" cy="936.5" r="6.1" stroke="#ed1c24" stroke-width="2.8" fill="#fff"/>
<circle cx="713.6" cy="936.5" r="6.1" stroke="#ed1c24" stroke-width="2.8" fill="#fff"/>
<circle cx="694.9" cy="940.5" r="6.1" stroke="#ed1c24" stroke-width="2.8" fill="#fff"/>
<rect x="776.9" y="911.4" width="69.6" height="119.2" stroke="#ed1c24" stroke-width="2.7" fill="none"/>
<line x1="811.4" y1="902.0" x2="811.4" y2="917.4" stroke="#ed1c24" stroke-width="2.8" />
<line x1="794.6" y1="902.0" x2="827.1" y2="902.0" stroke="#ed1c24" stroke-width="2.8" stroke-linecap="round"/>
<line x1="794.6" y1="917.4" x2="827.1" y2="917.4" stroke="#ed1c24" stroke-width="2.8" stroke-linecap="round"/>
<circle cx="793.0" cy="877.9" r="6.2" stroke="#c8c8c8" stroke-width="3.5" fill="none"/>
<circle cx="793.0" cy="877.9" r="6.0" stroke="#2a2a2a" stroke-width="2.4" fill="#fff"/>
<circle cx="812.0" cy="876.2" r="6.2" stroke="#c8c8c8" stroke-width="3.5" fill="none"/>
<circle cx="812.0" cy="876.2" r="6.0" stroke="#2a2a2a" stroke-width="2.4" fill="#fff"/>
<circle cx="830.5" cy="891.3" r="6.2" stroke="#c8c8c8" stroke-width="3.5" fill="none"/>
<circle cx="830.5" cy="891.3" r="6.0" stroke="#2a2a2a" stroke-width="2.4" fill="#fff"/>
<circle cx="811.4" cy="895.3" r="6.2" stroke="#c8c8c8" stroke-width="3.5" fill="none"/>
<circle cx="811.4" cy="895.3" r="6.0" stroke="#2a2a2a" stroke-width="2.4" fill="#fff"/>
<circle cx="829.8" cy="913.0" r="6.2" stroke="#c8c8c8" stroke-width="3.5" fill="none"/>
<circle cx="829.8" cy="913.0" r="6.0" stroke="#2a2a2a" stroke-width="2.4" fill="#fff"/>
<circle cx="783.6" cy="919.8" r="6.2" stroke="#c8c8c8" stroke-width="3.5" fill="none"/>
<circle cx="783.6" cy="919.8" r="6.0" stroke="#2a2a2a" stroke-width="2.4" fill="#fff"/>
<circle cx="811.4" cy="923.1" r="6.2" stroke="#c8c8c8" stroke-width="3.5" fill="none"/>
<circle cx="811.4" cy="923.1" r="6.0" stroke="#2a2a2a" stroke-width="2.4" fill="#fff"/>
<circle cx="792.3" cy="928.8" r="6.2" stroke="#c8c8c8" stroke-width="3.5" fill="none"/>
<circle cx="792.3" cy="928.8" r="6.0" stroke="#2a2a2a" stroke-width="2.4" fill="#fff"/>
<circle cx="830.5" cy="932.1" r="6.2" stroke="#c8c8c8" stroke-width="3.5" fill="none"/>
<circle cx="830.5" cy="932.1" r="6.0" stroke="#2a2a2a" stroke-width="2.4" fill="#fff"/>
<circle cx="811.4" cy="944.9" r="6.2" stroke="#c8c8c8" stroke-width="3.5" fill="none"/>
<circle cx="811.4" cy="944.9" r="6.0" stroke="#2a2a2a" stroke-width="2.4" fill="#fff"/>
<circle cx="670.1" cy="713.9" r="6.1" stroke="#ed1c24" stroke-width="2.8" fill="none"/>
<text x="689.9" y="724.6" font-size="24" textLength="115.5" lengthAdjust="spacingAndGlyphs" >No blocker</text>
<circle cx="670.1" cy="746.7" r="6.2" stroke="#c8c8c8" stroke-width="3.5" fill="none"/>
<circle cx="670.1" cy="746.7" r="6.0" stroke="#2a2a2a" stroke-width="2.4" fill="#fff"/>
<text x="689.9" y="757.4" font-size="24" textLength="131.5" lengthAdjust="spacingAndGlyphs" >Tolbutamide</text>
<text x="538.8" y="1106.0" font-size="38" font-weight="bold" >g</text>
<line x1="646.3" y1="1130.0" x2="646.3" y2="1463.2" stroke="#000" stroke-width="2.9" />
<line x1="640.0" y1="1461.7" x2="895.1" y2="1461.7" stroke="#000" stroke-width="2.9" />
<line x1="640.0" y1="1461.7" x2="646.3" y2="1461.7" stroke="#000" stroke-width="2.9" />
<text x="628.0" y="1471.9" font-size="28.6" text-anchor="end" >0</text>
<line x1="640.0" y1="1379.0" x2="646.3" y2="1379.0" stroke="#000" stroke-width="2.9" />
<text x="628.0" y="1389.2" font-size="28.6" text-anchor="end" >50</text>
<line x1="640.0" y1="1296.4" x2="646.3" y2="1296.4" stroke="#000" stroke-width="2.9" />
<text x="628.0" y="1306.6" font-size="28.6" text-anchor="end" >100</text>
<line x1="640.0" y1="1213.8" x2="646.3" y2="1213.8" stroke="#000" stroke-width="2.9" />
<text x="628.0" y="1224.0" font-size="28.6" text-anchor="end" >150</text>
<line x1="640.0" y1="1131.1" x2="646.3" y2="1131.1" stroke="#000" stroke-width="2.9" />
<text x="628.0" y="1141.3" font-size="28.6" text-anchor="end" >200</text>
<line x1="716.5" y1="1461.7" x2="716.5" y2="1468.6" stroke="#000" stroke-width="2.9" />
<line x1="823.4" y1="1461.7" x2="823.4" y2="1468.6" stroke="#000" stroke-width="2.9" />
<text x="563.0" y="1297.0" font-size="29" text-anchor="middle" transform="rotate(-90 563.0 1297.0)" >% of neurons</text>
<rect x="683.0" y="1384.0" width="68.9" height="77.7" stroke="#000" stroke-width="2.2" fill="#ed1c24"/>
<rect x="683.0" y="1297.8" width="68.9" height="86.2" stroke="#000" stroke-width="2.2" fill="#3953a4"/>
<rect x="789.5" y="1381.8" width="69.0" height="79.9" stroke="#000" stroke-width="2.2" fill="#ed1c24"/>
<rect x="789.5" y="1297.8" width="69.0" height="84.0" stroke="#000" stroke-width="2.2" fill="#808285"/>
<rect x="659.5" y="1141.5" width="24.1" height="17.8" stroke="#000" stroke-width="2" fill="#808285"/>
<text x="692.4" y="1158.7" font-size="24.5" textLength="218.4" lengthAdjust="spacingAndGlyphs" >No glucose-sensing</text>
<rect x="659.5" y="1174.0" width="24.1" height="17.5" stroke="#000" stroke-width="2" fill="#3953a4"/>
<text x="692.4" y="1191.6" font-size="24.5" >GE</text>
<rect x="659.5" y="1206.5" width="24.1" height="17.8" stroke="#000" stroke-width="2" fill="#ed1c24"/>
<text x="692.4" y="1224.5" font-size="24.5" >GI</text>
<text x="688.5" y="1502.9" font-size="28" textLength="58.2" lengthAdjust="spacingAndGlyphs" >GFP</text>
<text x="790.0" y="1502.9" font-size="28" textLength="66.4" lengthAdjust="spacingAndGlyphs" >Cas9</text>
<line x1="654.4" y1="1509.9" x2="884.9" y2="1509.9" stroke="#000" stroke-width="2.4" />
<text x="672.5" y="1545.4" font-size="28" textLength="194.9" lengthAdjust="spacingAndGlyphs" >Abcc8/sgRNAs</text>
<text x="989.4" y="1109.5" font-size="38" font-weight="bold" >h</text>
<text x="1135.5" y="1121.5" font-size="29">K<tspan font-size="20.3" dy="7">ATP</tspan><tspan dy="-7"> Currents</tspan></text>
<line x1="1101.4" y1="1171.5" x2="1101.4" y2="1504.0" stroke="#000" stroke-width="2.9" />
<line x1="1095.0" y1="1502.6" x2="1352.2" y2="1502.6" stroke="#000" stroke-width="2.9" />
<line x1="1095.0" y1="1502.6" x2="1101.4" y2="1502.6" stroke="#000" stroke-width="2.9" />
<text x="1083.0" y="1512.8" font-size="28.6" text-anchor="end" >0</text>
<line x1="1095.0" y1="1392.6" x2="1101.4" y2="1392.6" stroke="#000" stroke-width="2.9" />
<text x="1083.0" y="1402.8" font-size="28.6" text-anchor="end" >50</text>
<line x1="1095.0" y1="1282.6" x2="1101.4" y2="1282.6" stroke="#000" stroke-width="2.9" />
<text x="1083.0" y="1292.8" font-size="28.6" text-anchor="end" >100</text>
<line x1="1095.0" y1="1172.6" x2="1101.4" y2="1172.6" stroke="#000" stroke-width="2.9" />
<text x="1083.0" y="1182.8" font-size="28.6" text-anchor="end" >150</text>
<line x1="1162.7" y1="1502.6" x2="1162.7" y2="1509.0" stroke="#000" stroke-width="2.9" />
<line x1="1288.9" y1="1502.6" x2="1288.9" y2="1509.0" stroke="#000" stroke-width="2.9" />
<text x="1012.2" y="1341.5" font-size="29.1" text-anchor="middle" transform="rotate(-90 1012.2 1341.5)">K<tspan font-size="20.4" dy="7">ATP</tspan><tspan dy="-7"> currents (pA)</tspan></text>
<rect x="1122.9" y="1340.4" width="82.2" height="162.2" stroke="#3a53a4" stroke-width="2.7" fill="none"/>
<line x1="1164.0" y1="1323.0" x2="1164.0" y2="1354.6" stroke="#3a53a4" stroke-width="2.8" />
<line x1="1144.4" y1="1323.0" x2="1183.5" y2="1323.0" stroke="#3a53a4" stroke-width="2.8" stroke-linecap="round"/>
<line x1="1144.4" y1="1354.6" x2="1183.5" y2="1354.6" stroke="#3a53a4" stroke-width="2.8" stroke-linecap="round"/>
<circle cx="1164.0" cy="1259.8" r="6.3" stroke="#3a53a4" stroke-width="2.9" fill="none"/>
<circle cx="1164.0" cy="1278.1" r="6.3" stroke="#3a53a4" stroke-width="2.9" fill="none"/>
<circle cx="1164.0" cy="1308.8" r="6.3" stroke="#3a53a4" stroke-width="2.9" fill="none"/>
<circle cx="1153.9" cy="1324.0" r="6.3" stroke="#3a53a4" stroke-width="2.9" fill="none"/>
<circle cx="1183.0" cy="1331.9" r="6.3" stroke="#3a53a4" stroke-width="2.9" fill="none"/>
<circle cx="1173.5" cy="1349.9" r="6.3" stroke="#3a53a4" stroke-width="2.9" fill="none"/>
<circle cx="1153.9" cy="1356.2" r="6.3" stroke="#3a53a4" stroke-width="2.9" fill="none"/>
<circle cx="1164.0" cy="1378.3" r="6.3" stroke="#3a53a4" stroke-width="2.9" fill="none"/>
<circle cx="1154.5" cy="1403.6" r="6.3" stroke="#3a53a4" stroke-width="2.9" fill="none"/>
<circle cx="1173.5" cy="1403.0" r="6.3" stroke="#3a53a4" stroke-width="2.9" fill="none"/>
<rect x="1247.2" y="1484.3" width="82.2" height="18.3" stroke="#3a53a4" stroke-width="2.7" fill="none"/>
<circle cx="1262.7" cy="1481.1" r="6.2" stroke="#c8c8c8" stroke-width="3.5" fill="none"/>
<circle cx="1262.7" cy="1481.1" r="6.0" stroke="#2a2a2a" stroke-width="2.4" fill="#fff"/>
<circle cx="1279.4" cy="1479.5" r="6.2" stroke="#c8c8c8" stroke-width="3.5" fill="none"/>
<circle cx="1279.4" cy="1479.5" r="6.0" stroke="#2a2a2a" stroke-width="2.4" fill="#fff"/>
<circle cx="1297.8" cy="1474.8" r="6.2" stroke="#c8c8c8" stroke-width="3.5" fill="none"/>
<circle cx="1297.8" cy="1474.8" r="6.0" stroke="#2a2a2a" stroke-width="2.4" fill="#fff"/>
<circle cx="1314.8" cy="1480.5" r="6.2" stroke="#c8c8c8" stroke-width="3.5" fill="none"/>
<circle cx="1314.8" cy="1480.5" r="6.0" stroke="#2a2a2a" stroke-width="2.4" fill="#fff"/>
<circle cx="1273.1" cy="1488.1" r="6.2" stroke="#c8c8c8" stroke-width="3.5" fill="none"/>
<circle cx="1273.1" cy="1488.1" r="6.0" stroke="#2a2a2a" stroke-width="2.4" fill="#fff"/>
<circle cx="1283.2" cy="1490.0" r="6.2" stroke="#c8c8c8" stroke-width="3.5" fill="none"/>
<circle cx="1283.2" cy="1490.0" r="6.0" stroke="#2a2a2a" stroke-width="2.4" fill="#fff"/>
<circle cx="1293.6" cy="1490.0" r="6.2" stroke="#c8c8c8" stroke-width="3.5" fill="none"/>
<circle cx="1293.6" cy="1490.0" r="6.0" stroke="#2a2a2a" stroke-width="2.4" fill="#fff"/>
<circle cx="1304.1" cy="1484.3" r="6.2" stroke="#c8c8c8" stroke-width="3.5" fill="none"/>
<circle cx="1304.1" cy="1484.3" r="6.0" stroke="#2a2a2a" stroke-width="2.4" fill="#fff"/>
<text x="1290.0" y="1426.5" font-size="57" text-anchor="middle" font-weight="bold" fill="#000" letter-spacing="0.8">***</text>
<circle cx="1113.4" cy="1182.9" r="6.1" stroke="#3a53a4" stroke-width="2.8" fill="none"/>
<text x="1134.9" y="1190.2" font-size="24.5" textLength="232.0" lengthAdjust="spacingAndGlyphs" >GFP+Abcc8/sgRNAs</text>
<circle cx="1113.4" cy="1211.4" r="6.2" stroke="#c8c8c8" stroke-width="3.5" fill="none"/>
<circle cx="1113.4" cy="1211.4" r="6.0" stroke="#2a2a2a" stroke-width="2.4" fill="#fff"/>
<text x="1134.9" y="1219.3" font-size="24.5" textLength="238.8" lengthAdjust="spacingAndGlyphs" >Cas9+Abcc8/sgRNAs</text>
<text x="0.0" y="1109.2" font-size="38" font-weight="bold" >f</text>
<text x="241.1" y="1148.3" font-size="20.5" text-anchor="end" textLength="66.6" lengthAdjust="spacingAndGlyphs" >Control</text>
<text x="241.1" y="1166.2" font-size="14.2" text-anchor="end" textLength="61.3" lengthAdjust="spacingAndGlyphs" >AAV-GFP</text>
<text x="241.1" y="1182.5" font-size="14.2" text-anchor="end" textLength="129.0" lengthAdjust="spacingAndGlyphs" >AAV-Abcc8/sgRNAs</text>
<text x="241.1" y="1199.9" font-size="14.1" text-anchor="end" textLength="117.0" lengthAdjust="spacingAndGlyphs" >-FLEX-tdTOMATO</text>
<text x="317.7" y="1148.3" font-size="20.5" textLength="85.4" lengthAdjust="spacingAndGlyphs" >Knockout</text>
<text x="317.7" y="1166.2" font-size="14.2" textLength="121.0" lengthAdjust="spacingAndGlyphs" >AAV-FLEX-scCas9</text>
<text x="317.7" y="1182.5" font-size="14.2" textLength="128.5" lengthAdjust="spacingAndGlyphs" >AAV-Abcc8/sgRNAs</text>
<text x="317.7" y="1199.9" font-size="14.1" textLength="116.8" lengthAdjust="spacingAndGlyphs" >-FLEX-tdTOMATO</text>
<use href="#brain" transform="translate(278.7,1223.1) scale(0.965) translate(-423.4,-1774.2)"/>
<line x1="255.2" y1="1169.7" x2="255.2" y2="1177.8" stroke="#000" stroke-width="1.6" />
<line x1="249.0" y1="1169.7" x2="261.4" y2="1169.7" stroke="#000" stroke-width="1.6" />
<line x1="255.2" y1="1212.4" x2="255.2" y2="1443.2" stroke="#000" stroke-width="1.6" />
<rect x="248.5" y="1177.8" width="13.4" height="34.6" stroke="#000" stroke-width="1.6" fill="#f4ea1c"/>
<line x1="300.9" y1="1168.6" x2="300.9" y2="1176.8" stroke="#000" stroke-width="1.6" />
<line x1="294.7" y1="1168.6" x2="307.1" y2="1168.6" stroke="#000" stroke-width="1.6" />
<line x1="300.9" y1="1211.4" x2="300.9" y2="1442.1" stroke="#000" stroke-width="1.6" />
<rect x="294.2" y="1176.8" width="13.4" height="34.6" stroke="#000" stroke-width="1.6" fill="#ed1c24"/>
<line x1="239.2" y1="1442.6" x2="277.4" y2="1416.9" stroke="#ee2a24" stroke-width="1.5" />
<line x1="280.7" y1="1416.9" x2="319.6" y2="1442.6" stroke="#ee2a24" stroke-width="1.5" />
<polygon points="278.5,1442.0 271.9,1448.2 278.5,1446.4 285.2,1448.2" fill="#000"/>
<line x1="280.0" y1="1446.0" x2="283.0" y2="1460.0" stroke="#000" stroke-width="1.5" />
<line x1="268.9" y1="1446.8" x2="262.8" y2="1458.9" stroke="#000" stroke-width="1.5" />
<line x1="295.6" y1="1440.4" x2="306.3" y2="1460.0" stroke="#000" stroke-width="1.5" />
<text x="29.2" y="1450.3" font-size="20.5" textLength="82.0" lengthAdjust="spacingAndGlyphs" >Esr1-Cre</text>
<text x="223.6" y="1477.8" font-size="20.3" textLength="118.3" lengthAdjust="spacingAndGlyphs" >ARH3V VMH</text>
<text x="3.0" y="1622.5" font-size="38" font-weight="bold" >i</text>
<text x="304.0" y="1636.0" font-size="28" textLength="242.0" lengthAdjust="spacingAndGlyphs" >AAV-FLEX-scCas9</text>
<text x="184.0" y="1669.0" font-size="28" textLength="481.0" lengthAdjust="spacingAndGlyphs" >AAV-Ano4/sgRNAs-FLEX-tdTOMATO</text>
<text x="177.5" y="1701.5" font-size="28" textLength="493.5" lengthAdjust="spacingAndGlyphs" >AAV-Abcc8/sgRNAs-FLEX-tdTOMATO</text>
<use href="#brain" transform="translate(0,0)"/>
<line x1="399.5" y1="1717.5" x2="399.5" y2="1726.0" stroke="#000" stroke-width="1.6" />
<line x1="393.5" y1="1717.5" x2="405.5" y2="1717.5" stroke="#000" stroke-width="1.6" />
<line x1="399.5" y1="1762.5" x2="399.5" y2="2004.2" stroke="#000" stroke-width="1.6" />
<rect x="392.5" y="1726.0" width="14.0" height="36.5" stroke="#000" stroke-width="1.6" fill="#ed1c24"/>
<line x1="447.0" y1="1717.5" x2="447.0" y2="1726.0" stroke="#000" stroke-width="1.6" />
<line x1="441.0" y1="1717.5" x2="453.0" y2="1717.5" stroke="#000" stroke-width="1.6" />
<line x1="447.0" y1="1762.5" x2="447.0" y2="2004.2" stroke="#000" stroke-width="1.6" />
<rect x="440.0" y="1726.0" width="14.0" height="36.5" stroke="#000" stroke-width="1.6" fill="#ed1c24"/>
<line x1="382.5" y1="2001.6" x2="422.0" y2="1975.0" stroke="#ee2a24" stroke-width="1.5" />
<line x1="425.4" y1="1975.0" x2="465.8" y2="2001.6" stroke="#ee2a24" stroke-width="1.5" />
<polygon points="423.4,2003.4 416.5,2009.9 423.4,2008.0 430.4,2009.9" fill="#000"/>
<line x1="424.7" y1="2007.9" x2="427.4" y2="2020.6" stroke="#000" stroke-width="1.5" />
<line x1="413.9" y1="2007.6" x2="407.5" y2="2020.6" stroke="#000" stroke-width="1.5" />
<line x1="438.9" y1="1995.2" x2="452.8" y2="2021.1" stroke="#000" stroke-width="1.5" />
<text x="363.5" y="2037.5" font-size="20" textLength="40.5" lengthAdjust="spacingAndGlyphs" >ARH</text>
<text x="413.0" y="2035.0" font-size="20" textLength="24.5" lengthAdjust="spacingAndGlyphs" >3V</text>
<text x="448.5" y="2042.5" font-size="20" textLength="45.5" lengthAdjust="spacingAndGlyphs" >VMH</text>
<text x="863.3" y="1636.0" font-size="28" textLength="242.0" lengthAdjust="spacingAndGlyphs" >AAV-FLEX-scCas9</text>
<text x="743.3" y="1669.0" font-size="28" textLength="481.0" lengthAdjust="spacingAndGlyphs" >AAV-Ano4/sgRNAs-FLEX-tdTOMATO</text>
<text x="736.8" y="1701.5" font-size="28" textLength="493.5" lengthAdjust="spacingAndGlyphs" >AAV-Abcc8/sgRNAs-FLEX-tdTOMATO</text>
<use href="#brain" transform="translate(559.3,0)"/>
<line x1="958.8" y1="1717.5" x2="958.8" y2="1726.0" stroke="#000" stroke-width="1.6" />
<line x1="952.8" y1="1717.5" x2="964.8" y2="1717.5" stroke="#000" stroke-width="1.6" />
<line x1="958.8" y1="1762.5" x2="958.8" y2="2004.2" stroke="#000" stroke-width="1.6" />
<rect x="951.8" y="1726.0" width="14.0" height="36.5" stroke="#000" stroke-width="1.6" fill="#ed1c24"/>
<line x1="1006.3" y1="1717.5" x2="1006.3" y2="1726.0" stroke="#000" stroke-width="1.6" />
<line x1="1000.3" y1="1717.5" x2="1012.3" y2="1717.5" stroke="#000" stroke-width="1.6" />
<line x1="1006.3" y1="1762.5" x2="1006.3" y2="2004.2" stroke="#000" stroke-width="1.6" />
<rect x="999.3" y="1726.0" width="14.0" height="36.5" stroke="#000" stroke-width="1.6" fill="#ed1c24"/>
<line x1="941.8" y1="2001.6" x2="981.3" y2="1975.0" stroke="#ee2a24" stroke-width="1.5" />
<line x1="984.7" y1="1975.0" x2="1025.1" y2="2001.6" stroke="#ee2a24" stroke-width="1.5" />
<polygon points="982.7,2003.4 975.8,2009.9 982.7,2008.0 989.7,2009.9" fill="#000"/>
<line x1="984.0" y1="2007.9" x2="986.7" y2="2020.6" stroke="#000" stroke-width="1.5" />
<line x1="973.2" y1="2007.6" x2="966.8" y2="2020.6" stroke="#000" stroke-width="1.5" />
<line x1="998.2" y1="1995.2" x2="1012.1" y2="2021.1" stroke="#000" stroke-width="1.5" />
<text x="922.8" y="2037.5" font-size="20" textLength="40.5" lengthAdjust="spacingAndGlyphs" >ARH</text>
<text x="972.3" y="2035.0" font-size="20" textLength="24.5" lengthAdjust="spacingAndGlyphs" >3V</text>
<text x="1007.8" y="2042.5" font-size="20" textLength="45.5" lengthAdjust="spacingAndGlyphs" >VMH</text>
<text x="210.0" y="2007.5" font-size="29" textLength="44.0" lengthAdjust="spacingAndGlyphs" >WT</text>
<text x="697.0" y="2007.0" font-size="28.4" textLength="113.5" lengthAdjust="spacingAndGlyphs" >Esr1-Cre</text>
<text x="0.0" y="2122.0" font-size="38" font-weight="bold" >j</text>
<text x="111.0" y="2124.7" font-size="20.5" textLength="298.0" lengthAdjust="spacingAndGlyphs" >WT+Cas9+Ano4/Abcc8/sgRNAs</text>
<line x1="102.6" y1="2157.2" x2="102.6" y2="2371.1" stroke="#333" stroke-width="1.8" />
<line x1="101.7" y1="2370.2" x2="421.2" y2="2370.2" stroke="#333" stroke-width="1.8" />
<line x1="98.1" y1="2174.3" x2="102.6" y2="2174.3" stroke="#333" stroke-width="1.6" />
<text x="89.6" y="2181.5" font-size="20.5" text-anchor="end" >300</text>
<line x1="98.1" y1="2219.1" x2="102.6" y2="2219.1" stroke="#333" stroke-width="1.6" />
<text x="89.6" y="2226.3" font-size="20.5" text-anchor="end" >250</text>
<line x1="98.1" y1="2263.5" x2="102.6" y2="2263.5" stroke="#333" stroke-width="1.6" />
<text x="89.6" y="2270.7" font-size="20.5" text-anchor="end" >200</text>
<line x1="98.1" y1="2307.9" x2="102.6" y2="2307.9" stroke="#333" stroke-width="1.6" />
<text x="89.6" y="2315.1" font-size="20.5" text-anchor="end" >150</text>
<line x1="98.1" y1="2352.0" x2="102.6" y2="2352.0" stroke="#333" stroke-width="1.6" />
<text x="89.6" y="2359.2" font-size="20.5" text-anchor="end" >100</text>
<line x1="113.8" y1="2370.2" x2="113.8" y2="2374.6" stroke="#333" stroke-width="1.6" />
<text x="113.8" y="2398.9" font-size="20.5" text-anchor="middle" >0</text>
<line x1="236.9" y1="2370.2" x2="236.9" y2="2374.6" stroke="#333" stroke-width="1.6" />
<text x="236.9" y="2398.9" font-size="20.5" text-anchor="middle" >50</text>
<line x1="360.0" y1="2370.2" x2="360.0" y2="2374.6" stroke="#333" stroke-width="1.6" />
<text x="360.0" y="2398.9" font-size="20.5" text-anchor="middle" >100</text>
<text x="261.2" y="2430.7" font-size="20.5" text-anchor="middle" textLength="96.7" lengthAdjust="spacingAndGlyphs" >Time (min)</text>
<text x="34.2" y="2265.7" font-size="20.5" text-anchor="middle" transform="rotate(-90 34.2 2265.7)" textLength="145.4" lengthAdjust="spacingAndGlyphs" >Glucose (mg/dl)</text>
<polyline points="113.8,2275.1 187.7,2275.1 261.5,2263.8 335.4,2264.2 409.2,2272.0" fill="none" stroke="#2a2a2a" stroke-width="1.7"/>
<polyline points="113.8,2289.1 187.7,2208.5 261.5,2226.6 335.4,2255.3 409.2,2267.3" fill="none" stroke="#2a2a2a" stroke-width="1.7"/>
<line x1="187.7" y1="2197.2" x2="187.7" y2="2219.8" stroke="#2a2a2a" stroke-width="1.6" />
<line x1="184.1" y1="2197.2" x2="191.3" y2="2197.2" stroke="#2a2a2a" stroke-width="1.6" />
<line x1="184.1" y1="2219.8" x2="191.3" y2="2219.8" stroke="#2a2a2a" stroke-width="1.6" />
<line x1="261.5" y1="2218.0" x2="261.5" y2="2235.2" stroke="#2a2a2a" stroke-width="1.6" />
<line x1="257.9" y1="2218.0" x2="265.1" y2="2218.0" stroke="#2a2a2a" stroke-width="1.6" />
<line x1="257.9" y1="2235.2" x2="265.1" y2="2235.2" stroke="#2a2a2a" stroke-width="1.6" />
<line x1="335.4" y1="2248.8" x2="335.4" y2="2261.8" stroke="#2a2a2a" stroke-width="1.6" />
<line x1="331.8" y1="2248.8" x2="339.0" y2="2248.8" stroke="#2a2a2a" stroke-width="1.6" />
<line x1="331.8" y1="2261.8" x2="339.0" y2="2261.8" stroke="#2a2a2a" stroke-width="1.6" />
<line x1="409.2" y1="2260.8" x2="409.2" y2="2273.8" stroke="#2a2a2a" stroke-width="1.6" />
<line x1="405.6" y1="2260.8" x2="412.8" y2="2260.8" stroke="#2a2a2a" stroke-width="1.6" />
<line x1="405.6" y1="2273.8" x2="412.8" y2="2273.8" stroke="#2a2a2a" stroke-width="1.6" />
<circle cx="113.8" cy="2289.1" r="3.8" stroke="#231f20" stroke-width="1.6" fill="#231f20"/>
<circle cx="187.7" cy="2208.5" r="3.8" stroke="#231f20" stroke-width="1.6" fill="#231f20"/>
<circle cx="261.5" cy="2226.6" r="3.8" stroke="#231f20" stroke-width="1.6" fill="#231f20"/>
<circle cx="335.4" cy="2255.3" r="3.8" stroke="#231f20" stroke-width="1.6" fill="#231f20"/>
<circle cx="409.2" cy="2267.3" r="3.8" stroke="#231f20" stroke-width="1.6" fill="#231f20"/>
<line x1="187.7" y1="2269.6" x2="187.7" y2="2280.6" stroke="#2a2a2a" stroke-width="1.6" />
<line x1="184.1" y1="2269.6" x2="191.3" y2="2269.6" stroke="#2a2a2a" stroke-width="1.6" />
<line x1="184.1" y1="2280.6" x2="191.3" y2="2280.6" stroke="#2a2a2a" stroke-width="1.6" />
<line x1="261.5" y1="2257.5" x2="261.5" y2="2270.1" stroke="#2a2a2a" stroke-width="1.6" />
<line x1="257.9" y1="2257.5" x2="265.1" y2="2257.5" stroke="#2a2a2a" stroke-width="1.6" />
<line x1="257.9" y1="2270.1" x2="265.1" y2="2270.1" stroke="#2a2a2a" stroke-width="1.6" />
<line x1="335.4" y1="2259.0" x2="335.4" y2="2269.4" stroke="#2a2a2a" stroke-width="1.6" />
<line x1="331.8" y1="2259.0" x2="339.0" y2="2259.0" stroke="#2a2a2a" stroke-width="1.6" />
<line x1="331.8" y1="2269.4" x2="339.0" y2="2269.4" stroke="#2a2a2a" stroke-width="1.6" />
<line x1="409.2" y1="2269.0" x2="409.2" y2="2275.0" stroke="#2a2a2a" stroke-width="1.6" />
<line x1="405.6" y1="2269.0" x2="412.8" y2="2269.0" stroke="#2a2a2a" stroke-width="1.6" />
<line x1="405.6" y1="2275.0" x2="412.8" y2="2275.0" stroke="#2a2a2a" stroke-width="1.6" />
<circle cx="113.8" cy="2275.1" r="3.8" stroke="#231f20" stroke-width="1.6" fill="#fff"/>
<circle cx="187.7" cy="2275.1" r="3.8" stroke="#231f20" stroke-width="1.6" fill="#fff"/>
<circle cx="261.5" cy="2263.8" r="3.8" stroke="#231f20" stroke-width="1.6" fill="#fff"/>
<circle cx="335.4" cy="2264.2" r="3.8" stroke="#231f20" stroke-width="1.6" fill="#fff"/>
<circle cx="409.2" cy="2272.0" r="3.8" stroke="#231f20" stroke-width="1.6" fill="#fff"/>
<text x="188.2" y="2204.2" font-size="37" text-anchor="middle" letter-spacing="1.4" stroke="#231f20" stroke-width="0.7">***</text>
<text x="265.8" y="2223.0" font-size="37" text-anchor="middle" letter-spacing="1.4" stroke="#231f20" stroke-width="0.7">***</text>
<line x1="120.2" y1="2321.3" x2="136.2" y2="2321.3" stroke="#2a2a2a" stroke-width="1.6" />
<circle cx="128.2" cy="2321.3" r="3.8" stroke="#231f20" stroke-width="1.6" fill="#fff"/>
<text x="146.0" y="2327.1" font-size="20.5" textLength="56.4" lengthAdjust="spacingAndGlyphs" >Saline</text>
<line x1="120.2" y1="2349.7" x2="136.2" y2="2349.7" stroke="#2a2a2a" stroke-width="1.6" />
<circle cx="128.2" cy="2349.7" r="3.8" stroke="#231f20" stroke-width="1.6" fill="#231f20"/>
<text x="146.0" y="2355.8" font-size="20.5" textLength="48.2" lengthAdjust="spacingAndGlyphs" >2-DG</text>
<text x="499.0" y="2122.0" font-size="38" font-weight="bold" >k</text>
<text x="565.7" y="2124.7" font-size="20.5" textLength="349.4" lengthAdjust="spacingAndGlyphs" >Esr1-Cre+Cas9+Ano4/Abcc8/sgRNAs</text>
<line x1="582.8" y1="2157.2" x2="582.8" y2="2371.1" stroke="#333" stroke-width="1.8" />
<line x1="581.9" y1="2370.2" x2="901.8" y2="2370.2" stroke="#333" stroke-width="1.8" />
<line x1="578.3" y1="2174.3" x2="582.8" y2="2174.3" stroke="#333" stroke-width="1.6" />
<text x="569.8" y="2181.5" font-size="20.5" text-anchor="end" >300</text>
<line x1="578.3" y1="2219.1" x2="582.8" y2="2219.1" stroke="#333" stroke-width="1.6" />
<text x="569.8" y="2226.3" font-size="20.5" text-anchor="end" >250</text>
<line x1="578.3" y1="2263.5" x2="582.8" y2="2263.5" stroke="#333" stroke-width="1.6" />
<text x="569.8" y="2270.7" font-size="20.5" text-anchor="end" >200</text>
<line x1="578.3" y1="2307.9" x2="582.8" y2="2307.9" stroke="#333" stroke-width="1.6" />
<text x="569.8" y="2315.1" font-size="20.5" text-anchor="end" >150</text>
<line x1="578.3" y1="2352.0" x2="582.8" y2="2352.0" stroke="#333" stroke-width="1.6" />
<text x="569.8" y="2359.2" font-size="20.5" text-anchor="end" >100</text>
<line x1="595.1" y1="2370.2" x2="595.1" y2="2374.6" stroke="#333" stroke-width="1.6" />
<text x="595.1" y="2398.9" font-size="20.5" text-anchor="middle" >0</text>
<line x1="718.0" y1="2370.2" x2="718.0" y2="2374.6" stroke="#333" stroke-width="1.6" />
<text x="718.0" y="2398.9" font-size="20.5" text-anchor="middle" >50</text>
<line x1="840.9" y1="2370.2" x2="840.9" y2="2374.6" stroke="#333" stroke-width="1.6" />
<text x="840.9" y="2398.9" font-size="20.5" text-anchor="middle" >100</text>
<text x="742.3" y="2430.7" font-size="20.5" text-anchor="middle" textLength="96.7" lengthAdjust="spacingAndGlyphs" >Time (min)</text>
<text x="514.4" y="2265.7" font-size="20.5" text-anchor="middle" transform="rotate(-90 514.4 2265.7)" textLength="145.4" lengthAdjust="spacingAndGlyphs" >Glucose (mg/dl)</text>
<polyline points="595.1,2270.0 668.8,2266.9 742.6,2271.4 816.3,2273.1 890.1,2282.0" fill="none" stroke="#2a2a2a" stroke-width="1.7"/>
<polyline points="595.1,2278.5 668.8,2246.4 742.6,2253.2 816.3,2271.7 890.1,2282.3" fill="none" stroke="#2a2a2a" stroke-width="1.7"/>
<line x1="668.8" y1="2241.8" x2="668.8" y2="2251.0" stroke="#2a2a2a" stroke-width="1.6" />
<line x1="665.2" y1="2241.8" x2="672.4" y2="2241.8" stroke="#2a2a2a" stroke-width="1.6" />
<line x1="665.2" y1="2251.0" x2="672.4" y2="2251.0" stroke="#2a2a2a" stroke-width="1.6" />
<line x1="742.6" y1="2247.7" x2="742.6" y2="2258.7" stroke="#2a2a2a" stroke-width="1.6" />
<line x1="739.0" y1="2247.7" x2="746.2" y2="2247.7" stroke="#2a2a2a" stroke-width="1.6" />
<line x1="739.0" y1="2258.7" x2="746.2" y2="2258.7" stroke="#2a2a2a" stroke-width="1.6" />
<line x1="816.3" y1="2266.7" x2="816.3" y2="2276.7" stroke="#2a2a2a" stroke-width="1.6" />
<line x1="812.7" y1="2266.7" x2="819.9" y2="2266.7" stroke="#2a2a2a" stroke-width="1.6" />
<line x1="812.7" y1="2276.7" x2="819.9" y2="2276.7" stroke="#2a2a2a" stroke-width="1.6" />
<line x1="890.1" y1="2278.3" x2="890.1" y2="2286.3" stroke="#2a2a2a" stroke-width="1.6" />
<line x1="886.5" y1="2278.3" x2="893.7" y2="2278.3" stroke="#2a2a2a" stroke-width="1.6" />
<line x1="886.5" y1="2286.3" x2="893.7" y2="2286.3" stroke="#2a2a2a" stroke-width="1.6" />
<circle cx="595.1" cy="2278.5" r="3.8" stroke="#231f20" stroke-width="1.6" fill="#231f20"/>
<circle cx="668.8" cy="2246.4" r="3.8" stroke="#231f20" stroke-width="1.6" fill="#231f20"/>
<circle cx="742.6" cy="2253.2" r="3.8" stroke="#231f20" stroke-width="1.6" fill="#231f20"/>
<circle cx="816.3" cy="2271.7" r="3.8" stroke="#231f20" stroke-width="1.6" fill="#231f20"/>
<circle cx="890.1" cy="2282.3" r="3.8" stroke="#231f20" stroke-width="1.6" fill="#231f20"/>
<line x1="668.8" y1="2263.9" x2="668.8" y2="2269.9" stroke="#2a2a2a" stroke-width="1.6" />
<line x1="665.2" y1="2263.9" x2="672.4" y2="2263.9" stroke="#2a2a2a" stroke-width="1.6" />
<line x1="665.2" y1="2269.9" x2="672.4" y2="2269.9" stroke="#2a2a2a" stroke-width="1.6" />
<line x1="742.6" y1="2265.6" x2="742.6" y2="2277.2" stroke="#2a2a2a" stroke-width="1.6" />
<line x1="739.0" y1="2265.6" x2="746.2" y2="2265.6" stroke="#2a2a2a" stroke-width="1.6" />
<line x1="739.0" y1="2277.2" x2="746.2" y2="2277.2" stroke="#2a2a2a" stroke-width="1.6" />
<line x1="816.3" y1="2266.8" x2="816.3" y2="2279.4" stroke="#2a2a2a" stroke-width="1.6" />
<line x1="812.7" y1="2266.8" x2="819.9" y2="2266.8" stroke="#2a2a2a" stroke-width="1.6" />
<line x1="812.7" y1="2279.4" x2="819.9" y2="2279.4" stroke="#2a2a2a" stroke-width="1.6" />
<line x1="890.1" y1="2276.5" x2="890.1" y2="2287.5" stroke="#2a2a2a" stroke-width="1.6" />
<line x1="886.5" y1="2276.5" x2="893.7" y2="2276.5" stroke="#2a2a2a" stroke-width="1.6" />
<line x1="886.5" y1="2287.5" x2="893.7" y2="2287.5" stroke="#2a2a2a" stroke-width="1.6" />
<circle cx="595.1" cy="2270.0" r="3.8" stroke="#231f20" stroke-width="1.6" fill="#fff"/>
<circle cx="668.8" cy="2266.9" r="3.8" stroke="#231f20" stroke-width="1.6" fill="#fff"/>
<circle cx="742.6" cy="2271.4" r="3.8" stroke="#231f20" stroke-width="1.6" fill="#fff"/>
<circle cx="816.3" cy="2273.1" r="3.8" stroke="#231f20" stroke-width="1.6" fill="#fff"/>
<circle cx="890.1" cy="2282.0" r="3.8" stroke="#231f20" stroke-width="1.6" fill="#fff"/>
<text x="669.3" y="2249.3" font-size="37" text-anchor="middle" letter-spacing="1.4" stroke="#231f20" stroke-width="0.7">**</text>
<text x="744.2" y="2257.5" font-size="37" text-anchor="middle" letter-spacing="1.4" stroke="#231f20" stroke-width="0.7">*</text>
<line x1="601.1" y1="2321.3" x2="617.1" y2="2321.3" stroke="#2a2a2a" stroke-width="1.6" />
<circle cx="609.1" cy="2321.3" r="3.8" stroke="#231f20" stroke-width="1.6" fill="#fff"/>
<text x="626.9" y="2327.1" font-size="20.5" textLength="56.4" lengthAdjust="spacingAndGlyphs" >Saline</text>
<line x1="601.1" y1="2349.7" x2="617.1" y2="2349.7" stroke="#2a2a2a" stroke-width="1.6" />
<circle cx="609.1" cy="2349.7" r="3.8" stroke="#231f20" stroke-width="1.6" fill="#231f20"/>
<text x="626.9" y="2355.8" font-size="20.5" textLength="48.2" lengthAdjust="spacingAndGlyphs" >2-DG</text>
<text x="971.4" y="2122.2" font-size="38" font-weight="bold" >l</text>
<text x="1220.2" y="2124.5" font-size="20" textLength="42.0" lengthAdjust="spacingAndGlyphs" >AUC</text>
<line x1="1083.1" y1="2156.3" x2="1083.1" y2="2370.6" stroke="#333" stroke-width="1.8" />
<line x1="1082.2" y1="2369.7" x2="1404.0" y2="2369.7" stroke="#333" stroke-width="1.8" />
<line x1="1078.6" y1="2157.2" x2="1083.1" y2="2157.2" stroke="#333" stroke-width="1.6" />
<text x="1069.8" y="2164.4" font-size="20.5" text-anchor="end" >35,000</text>
<line x1="1078.6" y1="2228.6" x2="1083.1" y2="2228.6" stroke="#333" stroke-width="1.6" />
<text x="1069.8" y="2235.8" font-size="20.5" text-anchor="end" >30,000</text>
<line x1="1078.6" y1="2299.0" x2="1083.1" y2="2299.0" stroke="#333" stroke-width="1.6" />
<text x="1069.8" y="2306.2" font-size="20.5" text-anchor="end" >25,000</text>
<line x1="1078.6" y1="2369.7" x2="1083.1" y2="2369.7" stroke="#333" stroke-width="1.6" />
<text x="1069.8" y="2376.9" font-size="20.5" text-anchor="end" >20,000</text>
<line x1="1132.7" y1="2369.7" x2="1132.7" y2="2373.6" stroke="#333" stroke-width="1.6" />
<line x1="1206.0" y1="2369.7" x2="1206.0" y2="2373.6" stroke="#333" stroke-width="1.6" />
<line x1="1279.7" y1="2369.7" x2="1279.7" y2="2373.6" stroke="#333" stroke-width="1.6" />
<line x1="1353.1" y1="2369.7" x2="1353.1" y2="2373.6" stroke="#333" stroke-width="1.6" />
<text x="987.3" y="2265.8" font-size="20.5" text-anchor="middle" transform="rotate(-90 987.3 2265.8)" textLength="166.8" lengthAdjust="spacingAndGlyphs" >AUC (mg/dl x min)</text>
<rect x="1107.9" y="2324.5" width="48.9" height="45.2" stroke="#222" stroke-width="1.5" fill="#fff"/>
<line x1="1132.7" y1="2317.2" x2="1132.7" y2="2331.7" stroke="#222" stroke-width="1.4" />
<line x1="1120.3" y1="2317.2" x2="1145.1" y2="2317.2" stroke="#222" stroke-width="1.4" />
<line x1="1120.3" y1="2331.7" x2="1145.1" y2="2331.7" stroke="#222" stroke-width="1.4" />
<rect x="1181.9" y="2272.2" width="48.3" height="97.5" stroke="#222" stroke-width="1.5" fill="#fff"/>
<line x1="1206.0" y1="2260.7" x2="1206.0" y2="2283.2" stroke="#222" stroke-width="1.4" />
<line x1="1193.6" y1="2260.7" x2="1218.4" y2="2260.7" stroke="#222" stroke-width="1.4" />
<line x1="1193.6" y1="2283.2" x2="1218.4" y2="2283.2" stroke="#222" stroke-width="1.4" />
<rect x="1255.6" y="2328.8" width="48.6" height="40.9" stroke="#222" stroke-width="1.5" fill="#fff"/>
<line x1="1279.7" y1="2321.8" x2="1279.7" y2="2336.0" stroke="#222" stroke-width="1.4" />
<line x1="1267.3" y1="2321.8" x2="1292.1" y2="2321.8" stroke="#222" stroke-width="1.4" />
<line x1="1267.3" y1="2336.0" x2="1292.1" y2="2336.0" stroke="#222" stroke-width="1.4" />
<rect x="1329.3" y="2312.2" width="47.9" height="57.5" stroke="#222" stroke-width="1.5" fill="#fff"/>
<line x1="1353.1" y1="2307.0" x2="1353.1" y2="2317.9" stroke="#222" stroke-width="1.4" />
<line x1="1340.7" y1="2307.0" x2="1365.5" y2="2307.0" stroke="#222" stroke-width="1.4" />
<line x1="1340.7" y1="2317.9" x2="1365.5" y2="2317.9" stroke="#222" stroke-width="1.4" />
<circle cx="1138.3" cy="2298.7" r="3.9" stroke="#231f20" stroke-width="1.5" fill="#fff"/>
<circle cx="1126.1" cy="2308.9" r="3.9" stroke="#231f20" stroke-width="1.5" fill="#fff"/>
<circle cx="1132.7" cy="2323.8" r="3.9" stroke="#231f20" stroke-width="1.5" fill="#fff"/>
<circle cx="1120.1" cy="2329.4" r="3.9" stroke="#231f20" stroke-width="1.5" fill="#fff"/>
<circle cx="1144.9" cy="2337.0" r="3.9" stroke="#231f20" stroke-width="1.5" fill="#fff"/>
<circle cx="1132.7" cy="2341.6" r="3.9" stroke="#231f20" stroke-width="1.5" fill="#fff"/>
<circle cx="1200.1" cy="2238.5" r="3.9" stroke="#111" stroke-width="1" fill="#111"/>
<circle cx="1212.0" cy="2240.9" r="3.9" stroke="#111" stroke-width="1" fill="#111"/>
<circle cx="1206.0" cy="2269.3" r="3.9" stroke="#111" stroke-width="1" fill="#111"/>
<circle cx="1200.1" cy="2280.5" r="3.9" stroke="#111" stroke-width="1" fill="#111"/>
<circle cx="1212.0" cy="2293.7" r="3.9" stroke="#111" stroke-width="1" fill="#111"/>
<circle cx="1206.0" cy="2307.0" r="3.9" stroke="#111" stroke-width="1" fill="#111"/>
<circle cx="1273.8" cy="2299.0" r="3.9" stroke="#231f20" stroke-width="1.5" fill="#fff"/>
<circle cx="1286.0" cy="2299.0" r="3.9" stroke="#231f20" stroke-width="1.5" fill="#fff"/>
<circle cx="1286.0" cy="2318.5" r="3.9" stroke="#231f20" stroke-width="1.5" fill="#fff"/>
<circle cx="1273.8" cy="2326.1" r="3.9" stroke="#231f20" stroke-width="1.5" fill="#fff"/>
<circle cx="1279.7" cy="2334.4" r="3.9" stroke="#231f20" stroke-width="1.5" fill="#fff"/>
<circle cx="1267.2" cy="2337.0" r="3.9" stroke="#231f20" stroke-width="1.5" fill="#fff"/>
<circle cx="1292.0" cy="2336.0" r="3.9" stroke="#231f20" stroke-width="1.5" fill="#fff"/>
<circle cx="1273.8" cy="2350.9" r="3.9" stroke="#231f20" stroke-width="1.5" fill="#fff"/>
<circle cx="1286.0" cy="2350.9" r="3.9" stroke="#231f20" stroke-width="1.5" fill="#fff"/>
<circle cx="1347.1" cy="2280.5" r="3.9" stroke="#111" stroke-width="1" fill="#111"/>
<circle cx="1359.7" cy="2291.4" r="3.9" stroke="#111" stroke-width="1" fill="#111"/>
<circle cx="1353.1" cy="2305.3" r="3.9" stroke="#111" stroke-width="1" fill="#111"/>
<circle cx="1347.1" cy="2314.5" r="3.9" stroke="#111" stroke-width="1" fill="#111"/>
<circle cx="1334.9" cy="2321.2" r="3.9" stroke="#111" stroke-width="1" fill="#111"/>
<circle cx="1371.3" cy="2321.2" r="3.9" stroke="#111" stroke-width="1" fill="#111"/>
<circle cx="1359.7" cy="2325.1" r="3.9" stroke="#111" stroke-width="1" fill="#111"/>
<circle cx="1347.1" cy="2332.1" r="3.9" stroke="#111" stroke-width="1" fill="#111"/>
<circle cx="1365.3" cy="2317.9" r="3.9" stroke="#111" stroke-width="1" fill="#111"/>
<path d="M1127.7,2280.8 V2206.5 H1204.4 V2224.7" stroke="#222" stroke-width="2" fill="none" />
<path d="M1211,2235.2 V2206.5 H1353.1 V2235.2" stroke="#222" stroke-width="2" fill="none" />
<path d="M1278.1,2280.8 V2251.8 H1354.7 V2265" stroke="#222" stroke-width="2" fill="none" />
<text x="1169.4" y="2216.0" font-size="37" text-anchor="middle" letter-spacing="1.4" stroke="#231f20" stroke-width="0.7">*</text>
<text x="1271.8" y="2214.0" font-size="37" text-anchor="middle" letter-spacing="1.4" stroke="#231f20" stroke-width="0.7">**</text>
<text x="1321.4" y="2260.5" font-size="37" text-anchor="middle" letter-spacing="1.4" stroke="#231f20" stroke-width="0.7">*</text>
<text x="1046.7" y="2398.8" font-size="20.5" textLength="23.8" lengthAdjust="spacingAndGlyphs" >icv</text>
<text x="1106.2" y="2398.8" font-size="20.5" textLength="56.9" lengthAdjust="spacingAndGlyphs" >Saline</text>
<text x="1189.5" y="2398.8" font-size="20.5" textLength="48.9" lengthAdjust="spacingAndGlyphs" >2-DG</text>
<text x="1255.6" y="2398.8" font-size="20.5" textLength="56.9" lengthAdjust="spacingAndGlyphs" >Saline</text>
<text x="1338.2" y="2398.8" font-size="20.5" textLength="49.6" lengthAdjust="spacingAndGlyphs" >2-DG</text>
<text x="1100.9" y="2423.6" font-size="20.5" textLength="136.5" lengthAdjust="spacingAndGlyphs" >Cas9+sgRNAs</text>
<text x="1256.3" y="2423.6" font-size="20.5" textLength="135.8" lengthAdjust="spacingAndGlyphs" >Cas9+sgRNAs</text>
<line x1="1106.2" y1="2436.8" x2="1236.4" y2="2436.8" stroke="#222" stroke-width="2.4" />
<line x1="1254.9" y1="2436.8" x2="1384.5" y2="2436.8" stroke="#222" stroke-width="2.4" />
<text x="1163.7" y="2461.6" font-size="20.5" textLength="31.4" lengthAdjust="spacingAndGlyphs" >WT</text>
<text x="1279.7" y="2461.6" font-size="20.5" textLength="81.6" lengthAdjust="spacingAndGlyphs" >Esr1-Cre</text>
</svg></body></html>
